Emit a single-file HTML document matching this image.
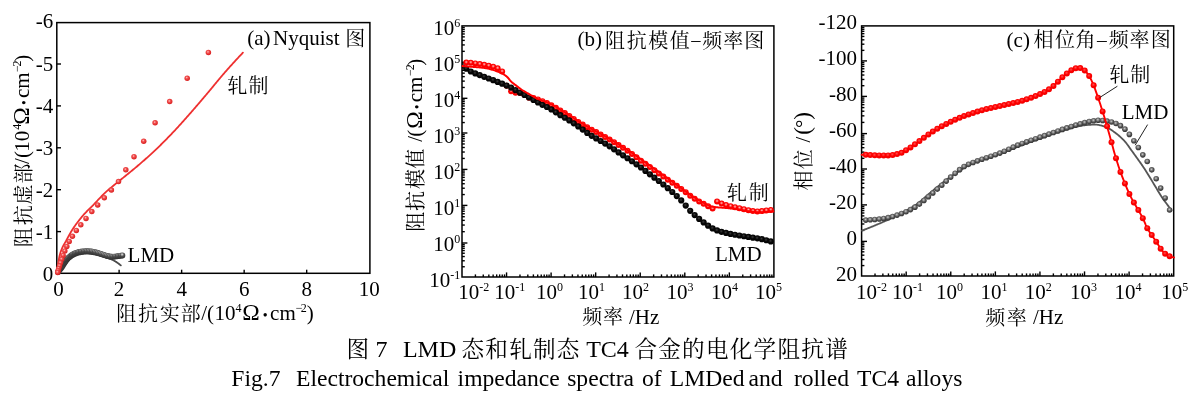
<!DOCTYPE html>
<html><head><meta charset="utf-8"><title>Fig.7</title>
<style>html,body{margin:0;padding:0;background:#fff;width:1199px;height:401px;overflow:hidden}svg{display:block}</style>
</head><body>
<svg width="1199" height="401" viewBox="0 0 1199 401"><defs>
<radialGradient id="ga" cx="0.42" cy="0.38" r="0.62"><stop offset="0" stop-color="#ffc8c8"/><stop offset="0.35" stop-color="#f25050"/><stop offset="1" stop-color="#d81c1c"/></radialGradient>
<radialGradient id="gal" cx="0.45" cy="0.32" r="0.68"><stop offset="0" stop-color="#eeeeee"/><stop offset="0.22" stop-color="#a0a0a0"/><stop offset="0.5" stop-color="#4c4c4c"/><stop offset="1" stop-color="#303030"/></radialGradient>
<radialGradient id="gbr" cx="0.5" cy="0.4" r="0.6"><stop offset="0" stop-color="#ffc0c0"/><stop offset="0.25" stop-color="#ff6060"/><stop offset="0.5" stop-color="#ff0000"/><stop offset="1" stop-color="#f40000"/></radialGradient>
<radialGradient id="gbk" cx="0.45" cy="0.4" r="0.6"><stop offset="0" stop-color="#3c3c3c"/><stop offset="0.45" stop-color="#080808"/><stop offset="1" stop-color="#000"/></radialGradient>
<radialGradient id="gcr" cx="0.45" cy="0.4" r="0.6"><stop offset="0" stop-color="#ff5050"/><stop offset="0.5" stop-color="#ff0000"/><stop offset="1" stop-color="#ee0000"/></radialGradient>
<radialGradient id="gcg" cx="0.45" cy="0.4" r="0.6"><stop offset="0" stop-color="#d0d0d0"/><stop offset="0.3" stop-color="#8a8a8a"/><stop offset="0.65" stop-color="#4e4e4e"/><stop offset="1" stop-color="#303030"/></radialGradient>
</defs>
<rect x="56.8" y="22.6" width="313.1" height="250.7" stroke="#000" stroke-width="1.5" fill="none"/>
<line x1="56.8" y1="231.6" x2="61" y2="231.6" stroke="#000" stroke-width="1.4"/>
<line x1="56.8" y1="189.7" x2="61" y2="189.7" stroke="#000" stroke-width="1.4"/>
<line x1="56.8" y1="147.8" x2="61" y2="147.8" stroke="#000" stroke-width="1.4"/>
<line x1="56.8" y1="105.9" x2="61" y2="105.9" stroke="#000" stroke-width="1.4"/>
<line x1="56.8" y1="64" x2="61" y2="64" stroke="#000" stroke-width="1.4"/>
<line x1="119.12" y1="273.3" x2="119.12" y2="269.7" stroke="#000" stroke-width="1.4"/>
<line x1="181.64" y1="273.3" x2="181.64" y2="269.7" stroke="#000" stroke-width="1.4"/>
<line x1="244.16" y1="273.3" x2="244.16" y2="269.7" stroke="#000" stroke-width="1.4"/>
<line x1="306.68" y1="273.3" x2="306.68" y2="269.7" stroke="#000" stroke-width="1.4"/>
<text x="53.3" y="280.7" font-family="'Liberation Serif', serif" font-size="21" text-anchor="end" >0</text>
<text x="53.3" y="238.8" font-family="'Liberation Serif', serif" font-size="21" text-anchor="end" >-1</text>
<text x="53.3" y="196.9" font-family="'Liberation Serif', serif" font-size="21" text-anchor="end" >-2</text>
<text x="53.3" y="155" font-family="'Liberation Serif', serif" font-size="21" text-anchor="end" >-3</text>
<text x="53.3" y="113.1" font-family="'Liberation Serif', serif" font-size="21" text-anchor="end" >-4</text>
<text x="53.3" y="71.2" font-family="'Liberation Serif', serif" font-size="21" text-anchor="end" >-5</text>
<text x="53.3" y="28.4" font-family="'Liberation Serif', serif" font-size="21" text-anchor="end" >-6</text>
<text x="58.6" y="296" font-family="'Liberation Serif', serif" font-size="21" text-anchor="middle" >0</text>
<text x="119.12" y="296" font-family="'Liberation Serif', serif" font-size="21" text-anchor="middle" >2</text>
<text x="181.64" y="296" font-family="'Liberation Serif', serif" font-size="21" text-anchor="middle" >4</text>
<text x="244.16" y="296" font-family="'Liberation Serif', serif" font-size="21" text-anchor="middle" >6</text>
<text x="306.68" y="296" font-family="'Liberation Serif', serif" font-size="21" text-anchor="middle" >8</text>
<text x="369.2" y="296" font-family="'Liberation Serif', serif" font-size="21" text-anchor="middle" >10</text>
<rect x="462" y="25.9" width="311.9" height="251.1" stroke="#000" stroke-width="1.5" fill="none"/>
<line x1="462" y1="266.76" x2="464.8" y2="266.76" stroke="#000" stroke-width="1.4"/>
<line x1="462" y1="260.78" x2="464.8" y2="260.78" stroke="#000" stroke-width="1.4"/>
<line x1="462" y1="256.53" x2="464.8" y2="256.53" stroke="#000" stroke-width="1.4"/>
<line x1="462" y1="253.24" x2="464.8" y2="253.24" stroke="#000" stroke-width="1.4"/>
<line x1="462" y1="250.54" x2="464.8" y2="250.54" stroke="#000" stroke-width="1.4"/>
<line x1="462" y1="248.27" x2="464.8" y2="248.27" stroke="#000" stroke-width="1.4"/>
<line x1="462" y1="246.29" x2="464.8" y2="246.29" stroke="#000" stroke-width="1.4"/>
<line x1="462" y1="244.56" x2="464.8" y2="244.56" stroke="#000" stroke-width="1.4"/>
<line x1="462" y1="243" x2="467.4" y2="243" stroke="#000" stroke-width="1.4"/>
<line x1="462" y1="231.68" x2="464.8" y2="231.68" stroke="#000" stroke-width="1.4"/>
<line x1="462" y1="225.06" x2="464.8" y2="225.06" stroke="#000" stroke-width="1.4"/>
<line x1="462" y1="220.36" x2="464.8" y2="220.36" stroke="#000" stroke-width="1.4"/>
<line x1="462" y1="216.72" x2="464.8" y2="216.72" stroke="#000" stroke-width="1.4"/>
<line x1="462" y1="213.74" x2="464.8" y2="213.74" stroke="#000" stroke-width="1.4"/>
<line x1="462" y1="211.22" x2="464.8" y2="211.22" stroke="#000" stroke-width="1.4"/>
<line x1="462" y1="209.04" x2="464.8" y2="209.04" stroke="#000" stroke-width="1.4"/>
<line x1="462" y1="207.12" x2="464.8" y2="207.12" stroke="#000" stroke-width="1.4"/>
<line x1="462" y1="205.4" x2="467.4" y2="205.4" stroke="#000" stroke-width="1.4"/>
<line x1="462" y1="194.56" x2="464.8" y2="194.56" stroke="#000" stroke-width="1.4"/>
<line x1="462" y1="188.22" x2="464.8" y2="188.22" stroke="#000" stroke-width="1.4"/>
<line x1="462" y1="183.73" x2="464.8" y2="183.73" stroke="#000" stroke-width="1.4"/>
<line x1="462" y1="180.24" x2="464.8" y2="180.24" stroke="#000" stroke-width="1.4"/>
<line x1="462" y1="177.39" x2="464.8" y2="177.39" stroke="#000" stroke-width="1.4"/>
<line x1="462" y1="174.98" x2="464.8" y2="174.98" stroke="#000" stroke-width="1.4"/>
<line x1="462" y1="172.89" x2="464.8" y2="172.89" stroke="#000" stroke-width="1.4"/>
<line x1="462" y1="171.05" x2="464.8" y2="171.05" stroke="#000" stroke-width="1.4"/>
<line x1="462" y1="169.4" x2="467.4" y2="169.4" stroke="#000" stroke-width="1.4"/>
<line x1="462" y1="158.44" x2="464.8" y2="158.44" stroke="#000" stroke-width="1.4"/>
<line x1="462" y1="152.03" x2="464.8" y2="152.03" stroke="#000" stroke-width="1.4"/>
<line x1="462" y1="147.49" x2="464.8" y2="147.49" stroke="#000" stroke-width="1.4"/>
<line x1="462" y1="143.96" x2="464.8" y2="143.96" stroke="#000" stroke-width="1.4"/>
<line x1="462" y1="141.08" x2="464.8" y2="141.08" stroke="#000" stroke-width="1.4"/>
<line x1="462" y1="138.64" x2="464.8" y2="138.64" stroke="#000" stroke-width="1.4"/>
<line x1="462" y1="136.53" x2="464.8" y2="136.53" stroke="#000" stroke-width="1.4"/>
<line x1="462" y1="134.67" x2="464.8" y2="134.67" stroke="#000" stroke-width="1.4"/>
<line x1="462" y1="133" x2="467.4" y2="133" stroke="#000" stroke-width="1.4"/>
<line x1="462" y1="122.55" x2="464.8" y2="122.55" stroke="#000" stroke-width="1.4"/>
<line x1="462" y1="116.44" x2="464.8" y2="116.44" stroke="#000" stroke-width="1.4"/>
<line x1="462" y1="112.11" x2="464.8" y2="112.11" stroke="#000" stroke-width="1.4"/>
<line x1="462" y1="108.75" x2="464.8" y2="108.75" stroke="#000" stroke-width="1.4"/>
<line x1="462" y1="106" x2="464.8" y2="106" stroke="#000" stroke-width="1.4"/>
<line x1="462" y1="103.68" x2="464.8" y2="103.68" stroke="#000" stroke-width="1.4"/>
<line x1="462" y1="101.66" x2="464.8" y2="101.66" stroke="#000" stroke-width="1.4"/>
<line x1="462" y1="99.89" x2="464.8" y2="99.89" stroke="#000" stroke-width="1.4"/>
<line x1="462" y1="98.3" x2="467.4" y2="98.3" stroke="#000" stroke-width="1.4"/>
<line x1="462" y1="87.46" x2="464.8" y2="87.46" stroke="#000" stroke-width="1.4"/>
<line x1="462" y1="81.12" x2="464.8" y2="81.12" stroke="#000" stroke-width="1.4"/>
<line x1="462" y1="76.63" x2="464.8" y2="76.63" stroke="#000" stroke-width="1.4"/>
<line x1="462" y1="73.14" x2="464.8" y2="73.14" stroke="#000" stroke-width="1.4"/>
<line x1="462" y1="70.29" x2="464.8" y2="70.29" stroke="#000" stroke-width="1.4"/>
<line x1="462" y1="67.88" x2="464.8" y2="67.88" stroke="#000" stroke-width="1.4"/>
<line x1="462" y1="65.79" x2="464.8" y2="65.79" stroke="#000" stroke-width="1.4"/>
<line x1="462" y1="63.95" x2="464.8" y2="63.95" stroke="#000" stroke-width="1.4"/>
<line x1="462" y1="62.3" x2="467.4" y2="62.3" stroke="#000" stroke-width="1.4"/>
<line x1="462" y1="51.34" x2="464.8" y2="51.34" stroke="#000" stroke-width="1.4"/>
<line x1="462" y1="44.93" x2="464.8" y2="44.93" stroke="#000" stroke-width="1.4"/>
<line x1="462" y1="40.39" x2="464.8" y2="40.39" stroke="#000" stroke-width="1.4"/>
<line x1="462" y1="36.86" x2="464.8" y2="36.86" stroke="#000" stroke-width="1.4"/>
<line x1="462" y1="33.98" x2="464.8" y2="33.98" stroke="#000" stroke-width="1.4"/>
<line x1="462" y1="31.54" x2="464.8" y2="31.54" stroke="#000" stroke-width="1.4"/>
<line x1="462" y1="29.43" x2="464.8" y2="29.43" stroke="#000" stroke-width="1.4"/>
<line x1="462" y1="27.57" x2="464.8" y2="27.57" stroke="#000" stroke-width="1.4"/>
<line x1="475.41" y1="277" x2="475.41" y2="274.4" stroke="#000" stroke-width="1.4"/>
<line x1="483.26" y1="277" x2="483.26" y2="274.4" stroke="#000" stroke-width="1.4"/>
<line x1="488.83" y1="277" x2="488.83" y2="274.4" stroke="#000" stroke-width="1.4"/>
<line x1="493.14" y1="277" x2="493.14" y2="274.4" stroke="#000" stroke-width="1.4"/>
<line x1="496.67" y1="277" x2="496.67" y2="274.4" stroke="#000" stroke-width="1.4"/>
<line x1="499.66" y1="277" x2="499.66" y2="274.4" stroke="#000" stroke-width="1.4"/>
<line x1="502.24" y1="277" x2="502.24" y2="274.4" stroke="#000" stroke-width="1.4"/>
<line x1="504.52" y1="277" x2="504.52" y2="274.4" stroke="#000" stroke-width="1.4"/>
<line x1="506.56" y1="277" x2="506.56" y2="272.4" stroke="#000" stroke-width="1.4"/>
<line x1="519.97" y1="277" x2="519.97" y2="274.4" stroke="#000" stroke-width="1.4"/>
<line x1="527.82" y1="277" x2="527.82" y2="274.4" stroke="#000" stroke-width="1.4"/>
<line x1="533.38" y1="277" x2="533.38" y2="274.4" stroke="#000" stroke-width="1.4"/>
<line x1="537.7" y1="277" x2="537.7" y2="274.4" stroke="#000" stroke-width="1.4"/>
<line x1="541.23" y1="277" x2="541.23" y2="274.4" stroke="#000" stroke-width="1.4"/>
<line x1="544.21" y1="277" x2="544.21" y2="274.4" stroke="#000" stroke-width="1.4"/>
<line x1="546.8" y1="277" x2="546.8" y2="274.4" stroke="#000" stroke-width="1.4"/>
<line x1="549.08" y1="277" x2="549.08" y2="274.4" stroke="#000" stroke-width="1.4"/>
<line x1="551.11" y1="277" x2="551.11" y2="272.4" stroke="#000" stroke-width="1.4"/>
<line x1="564.53" y1="277" x2="564.53" y2="274.4" stroke="#000" stroke-width="1.4"/>
<line x1="572.37" y1="277" x2="572.37" y2="274.4" stroke="#000" stroke-width="1.4"/>
<line x1="577.94" y1="277" x2="577.94" y2="274.4" stroke="#000" stroke-width="1.4"/>
<line x1="582.26" y1="277" x2="582.26" y2="274.4" stroke="#000" stroke-width="1.4"/>
<line x1="585.79" y1="277" x2="585.79" y2="274.4" stroke="#000" stroke-width="1.4"/>
<line x1="588.77" y1="277" x2="588.77" y2="274.4" stroke="#000" stroke-width="1.4"/>
<line x1="591.35" y1="277" x2="591.35" y2="274.4" stroke="#000" stroke-width="1.4"/>
<line x1="593.63" y1="277" x2="593.63" y2="274.4" stroke="#000" stroke-width="1.4"/>
<line x1="595.67" y1="277" x2="595.67" y2="272.4" stroke="#000" stroke-width="1.4"/>
<line x1="609.08" y1="277" x2="609.08" y2="274.4" stroke="#000" stroke-width="1.4"/>
<line x1="616.93" y1="277" x2="616.93" y2="274.4" stroke="#000" stroke-width="1.4"/>
<line x1="622.5" y1="277" x2="622.5" y2="274.4" stroke="#000" stroke-width="1.4"/>
<line x1="626.82" y1="277" x2="626.82" y2="274.4" stroke="#000" stroke-width="1.4"/>
<line x1="630.34" y1="277" x2="630.34" y2="274.4" stroke="#000" stroke-width="1.4"/>
<line x1="633.33" y1="277" x2="633.33" y2="274.4" stroke="#000" stroke-width="1.4"/>
<line x1="635.91" y1="277" x2="635.91" y2="274.4" stroke="#000" stroke-width="1.4"/>
<line x1="638.19" y1="277" x2="638.19" y2="274.4" stroke="#000" stroke-width="1.4"/>
<line x1="640.23" y1="277" x2="640.23" y2="272.4" stroke="#000" stroke-width="1.4"/>
<line x1="653.64" y1="277" x2="653.64" y2="274.4" stroke="#000" stroke-width="1.4"/>
<line x1="661.49" y1="277" x2="661.49" y2="274.4" stroke="#000" stroke-width="1.4"/>
<line x1="667.05" y1="277" x2="667.05" y2="274.4" stroke="#000" stroke-width="1.4"/>
<line x1="671.37" y1="277" x2="671.37" y2="274.4" stroke="#000" stroke-width="1.4"/>
<line x1="674.9" y1="277" x2="674.9" y2="274.4" stroke="#000" stroke-width="1.4"/>
<line x1="677.88" y1="277" x2="677.88" y2="274.4" stroke="#000" stroke-width="1.4"/>
<line x1="680.47" y1="277" x2="680.47" y2="274.4" stroke="#000" stroke-width="1.4"/>
<line x1="682.75" y1="277" x2="682.75" y2="274.4" stroke="#000" stroke-width="1.4"/>
<line x1="684.79" y1="277" x2="684.79" y2="272.4" stroke="#000" stroke-width="1.4"/>
<line x1="698.2" y1="277" x2="698.2" y2="274.4" stroke="#000" stroke-width="1.4"/>
<line x1="706.04" y1="277" x2="706.04" y2="274.4" stroke="#000" stroke-width="1.4"/>
<line x1="711.61" y1="277" x2="711.61" y2="274.4" stroke="#000" stroke-width="1.4"/>
<line x1="715.93" y1="277" x2="715.93" y2="274.4" stroke="#000" stroke-width="1.4"/>
<line x1="719.46" y1="277" x2="719.46" y2="274.4" stroke="#000" stroke-width="1.4"/>
<line x1="722.44" y1="277" x2="722.44" y2="274.4" stroke="#000" stroke-width="1.4"/>
<line x1="725.02" y1="277" x2="725.02" y2="274.4" stroke="#000" stroke-width="1.4"/>
<line x1="727.3" y1="277" x2="727.3" y2="274.4" stroke="#000" stroke-width="1.4"/>
<line x1="729.34" y1="277" x2="729.34" y2="272.4" stroke="#000" stroke-width="1.4"/>
<line x1="742.76" y1="277" x2="742.76" y2="274.4" stroke="#000" stroke-width="1.4"/>
<line x1="750.6" y1="277" x2="750.6" y2="274.4" stroke="#000" stroke-width="1.4"/>
<line x1="756.17" y1="277" x2="756.17" y2="274.4" stroke="#000" stroke-width="1.4"/>
<line x1="760.49" y1="277" x2="760.49" y2="274.4" stroke="#000" stroke-width="1.4"/>
<line x1="764.02" y1="277" x2="764.02" y2="274.4" stroke="#000" stroke-width="1.4"/>
<line x1="767" y1="277" x2="767" y2="274.4" stroke="#000" stroke-width="1.4"/>
<line x1="769.58" y1="277" x2="769.58" y2="274.4" stroke="#000" stroke-width="1.4"/>
<line x1="771.86" y1="277" x2="771.86" y2="274.4" stroke="#000" stroke-width="1.4"/>
<text x="460.2" y="286.72" font-family="'Liberation Serif', serif" font-size="21" text-anchor="end">10<tspan dy="-8" font-size="12">-1</tspan></text>
<text x="460.2" y="250.76" font-family="'Liberation Serif', serif" font-size="21" text-anchor="end">10<tspan dy="-8" font-size="12">0</tspan></text>
<text x="460.2" y="214.8" font-family="'Liberation Serif', serif" font-size="21" text-anchor="end">10<tspan dy="-8" font-size="12">1</tspan></text>
<text x="460.2" y="178.84" font-family="'Liberation Serif', serif" font-size="21" text-anchor="end">10<tspan dy="-8" font-size="12">2</tspan></text>
<text x="460.2" y="142.88" font-family="'Liberation Serif', serif" font-size="21" text-anchor="end">10<tspan dy="-8" font-size="12">3</tspan></text>
<text x="460.2" y="106.92" font-family="'Liberation Serif', serif" font-size="21" text-anchor="end">10<tspan dy="-8" font-size="12">4</tspan></text>
<text x="460.2" y="70.96" font-family="'Liberation Serif', serif" font-size="21" text-anchor="end">10<tspan dy="-8" font-size="12">5</tspan></text>
<text x="460.2" y="35" font-family="'Liberation Serif', serif" font-size="21" text-anchor="end">10<tspan dy="-8" font-size="12">6</tspan></text>
<text x="458.3" y="299" font-family="'Liberation Serif', serif" font-size="21">10<tspan dy="-8" font-size="12">-2</tspan></text>
<text x="494.3" y="299" font-family="'Liberation Serif', serif" font-size="21">10<tspan dy="-8" font-size="12">-1</tspan></text>
<text x="535.9" y="299" font-family="'Liberation Serif', serif" font-size="21">10<tspan dy="-8" font-size="12">0</tspan></text>
<text x="578.1" y="299" font-family="'Liberation Serif', serif" font-size="21">10<tspan dy="-8" font-size="12">1</tspan></text>
<text x="622" y="299" font-family="'Liberation Serif', serif" font-size="21">10<tspan dy="-8" font-size="12">2</tspan></text>
<text x="666.5" y="299" font-family="'Liberation Serif', serif" font-size="21">10<tspan dy="-8" font-size="12">3</tspan></text>
<text x="711.1" y="299" font-family="'Liberation Serif', serif" font-size="21">10<tspan dy="-8" font-size="12">4</tspan></text>
<text x="755.1" y="299" font-family="'Liberation Serif', serif" font-size="21">10<tspan dy="-8" font-size="12">5</tspan></text>
<rect x="861.6" y="25.9" width="312.1" height="250.1" stroke="#000" stroke-width="1.5" fill="none"/>
<line x1="861.6" y1="265.58" x2="864.4" y2="265.58" stroke="#000" stroke-width="1.4"/>
<line x1="861.6" y1="259.49" x2="864.4" y2="259.49" stroke="#000" stroke-width="1.4"/>
<line x1="861.6" y1="255.17" x2="864.4" y2="255.17" stroke="#000" stroke-width="1.4"/>
<line x1="861.6" y1="251.82" x2="864.4" y2="251.82" stroke="#000" stroke-width="1.4"/>
<line x1="861.6" y1="249.08" x2="864.4" y2="249.08" stroke="#000" stroke-width="1.4"/>
<line x1="861.6" y1="246.76" x2="864.4" y2="246.76" stroke="#000" stroke-width="1.4"/>
<line x1="861.6" y1="244.75" x2="864.4" y2="244.75" stroke="#000" stroke-width="1.4"/>
<line x1="861.6" y1="242.98" x2="864.4" y2="242.98" stroke="#000" stroke-width="1.4"/>
<line x1="861.6" y1="241.4" x2="867" y2="241.4" stroke="#000" stroke-width="1.4"/>
<line x1="861.6" y1="230.41" x2="864.4" y2="230.41" stroke="#000" stroke-width="1.4"/>
<line x1="861.6" y1="223.99" x2="864.4" y2="223.99" stroke="#000" stroke-width="1.4"/>
<line x1="861.6" y1="219.42" x2="864.4" y2="219.42" stroke="#000" stroke-width="1.4"/>
<line x1="861.6" y1="215.89" x2="864.4" y2="215.89" stroke="#000" stroke-width="1.4"/>
<line x1="861.6" y1="213" x2="864.4" y2="213" stroke="#000" stroke-width="1.4"/>
<line x1="861.6" y1="210.55" x2="864.4" y2="210.55" stroke="#000" stroke-width="1.4"/>
<line x1="861.6" y1="208.44" x2="864.4" y2="208.44" stroke="#000" stroke-width="1.4"/>
<line x1="861.6" y1="206.57" x2="864.4" y2="206.57" stroke="#000" stroke-width="1.4"/>
<line x1="861.6" y1="204.9" x2="867" y2="204.9" stroke="#000" stroke-width="1.4"/>
<line x1="861.6" y1="194.09" x2="864.4" y2="194.09" stroke="#000" stroke-width="1.4"/>
<line x1="861.6" y1="187.77" x2="864.4" y2="187.77" stroke="#000" stroke-width="1.4"/>
<line x1="861.6" y1="183.29" x2="864.4" y2="183.29" stroke="#000" stroke-width="1.4"/>
<line x1="861.6" y1="179.81" x2="864.4" y2="179.81" stroke="#000" stroke-width="1.4"/>
<line x1="861.6" y1="176.96" x2="864.4" y2="176.96" stroke="#000" stroke-width="1.4"/>
<line x1="861.6" y1="174.56" x2="864.4" y2="174.56" stroke="#000" stroke-width="1.4"/>
<line x1="861.6" y1="172.48" x2="864.4" y2="172.48" stroke="#000" stroke-width="1.4"/>
<line x1="861.6" y1="170.64" x2="864.4" y2="170.64" stroke="#000" stroke-width="1.4"/>
<line x1="861.6" y1="169" x2="867" y2="169" stroke="#000" stroke-width="1.4"/>
<line x1="861.6" y1="158.34" x2="864.4" y2="158.34" stroke="#000" stroke-width="1.4"/>
<line x1="861.6" y1="152.11" x2="864.4" y2="152.11" stroke="#000" stroke-width="1.4"/>
<line x1="861.6" y1="147.69" x2="864.4" y2="147.69" stroke="#000" stroke-width="1.4"/>
<line x1="861.6" y1="144.26" x2="864.4" y2="144.26" stroke="#000" stroke-width="1.4"/>
<line x1="861.6" y1="141.45" x2="864.4" y2="141.45" stroke="#000" stroke-width="1.4"/>
<line x1="861.6" y1="139.08" x2="864.4" y2="139.08" stroke="#000" stroke-width="1.4"/>
<line x1="861.6" y1="137.03" x2="864.4" y2="137.03" stroke="#000" stroke-width="1.4"/>
<line x1="861.6" y1="135.22" x2="864.4" y2="135.22" stroke="#000" stroke-width="1.4"/>
<line x1="861.6" y1="133.6" x2="867" y2="133.6" stroke="#000" stroke-width="1.4"/>
<line x1="861.6" y1="122.4" x2="864.4" y2="122.4" stroke="#000" stroke-width="1.4"/>
<line x1="861.6" y1="115.85" x2="864.4" y2="115.85" stroke="#000" stroke-width="1.4"/>
<line x1="861.6" y1="111.2" x2="864.4" y2="111.2" stroke="#000" stroke-width="1.4"/>
<line x1="861.6" y1="107.6" x2="864.4" y2="107.6" stroke="#000" stroke-width="1.4"/>
<line x1="861.6" y1="104.65" x2="864.4" y2="104.65" stroke="#000" stroke-width="1.4"/>
<line x1="861.6" y1="102.16" x2="864.4" y2="102.16" stroke="#000" stroke-width="1.4"/>
<line x1="861.6" y1="100.01" x2="864.4" y2="100.01" stroke="#000" stroke-width="1.4"/>
<line x1="861.6" y1="98.1" x2="864.4" y2="98.1" stroke="#000" stroke-width="1.4"/>
<line x1="861.6" y1="96.4" x2="867" y2="96.4" stroke="#000" stroke-width="1.4"/>
<line x1="861.6" y1="85.71" x2="864.4" y2="85.71" stroke="#000" stroke-width="1.4"/>
<line x1="861.6" y1="79.46" x2="864.4" y2="79.46" stroke="#000" stroke-width="1.4"/>
<line x1="861.6" y1="75.03" x2="864.4" y2="75.03" stroke="#000" stroke-width="1.4"/>
<line x1="861.6" y1="71.59" x2="864.4" y2="71.59" stroke="#000" stroke-width="1.4"/>
<line x1="861.6" y1="68.78" x2="864.4" y2="68.78" stroke="#000" stroke-width="1.4"/>
<line x1="861.6" y1="66.4" x2="864.4" y2="66.4" stroke="#000" stroke-width="1.4"/>
<line x1="861.6" y1="64.34" x2="864.4" y2="64.34" stroke="#000" stroke-width="1.4"/>
<line x1="861.6" y1="62.52" x2="864.4" y2="62.52" stroke="#000" stroke-width="1.4"/>
<line x1="861.6" y1="60.9" x2="867" y2="60.9" stroke="#000" stroke-width="1.4"/>
<line x1="861.6" y1="50.36" x2="864.4" y2="50.36" stroke="#000" stroke-width="1.4"/>
<line x1="861.6" y1="44.2" x2="864.4" y2="44.2" stroke="#000" stroke-width="1.4"/>
<line x1="861.6" y1="39.83" x2="864.4" y2="39.83" stroke="#000" stroke-width="1.4"/>
<line x1="861.6" y1="36.44" x2="864.4" y2="36.44" stroke="#000" stroke-width="1.4"/>
<line x1="861.6" y1="33.66" x2="864.4" y2="33.66" stroke="#000" stroke-width="1.4"/>
<line x1="861.6" y1="31.32" x2="864.4" y2="31.32" stroke="#000" stroke-width="1.4"/>
<line x1="861.6" y1="29.29" x2="864.4" y2="29.29" stroke="#000" stroke-width="1.4"/>
<line x1="861.6" y1="27.5" x2="864.4" y2="27.5" stroke="#000" stroke-width="1.4"/>
<line x1="875.02" y1="276" x2="875.02" y2="273.4" stroke="#000" stroke-width="1.4"/>
<line x1="882.87" y1="276" x2="882.87" y2="273.4" stroke="#000" stroke-width="1.4"/>
<line x1="888.44" y1="276" x2="888.44" y2="273.4" stroke="#000" stroke-width="1.4"/>
<line x1="892.76" y1="276" x2="892.76" y2="273.4" stroke="#000" stroke-width="1.4"/>
<line x1="896.29" y1="276" x2="896.29" y2="273.4" stroke="#000" stroke-width="1.4"/>
<line x1="899.28" y1="276" x2="899.28" y2="273.4" stroke="#000" stroke-width="1.4"/>
<line x1="901.86" y1="276" x2="901.86" y2="273.4" stroke="#000" stroke-width="1.4"/>
<line x1="904.15" y1="276" x2="904.15" y2="273.4" stroke="#000" stroke-width="1.4"/>
<line x1="906.19" y1="276" x2="906.19" y2="271.4" stroke="#000" stroke-width="1.4"/>
<line x1="919.61" y1="276" x2="919.61" y2="273.4" stroke="#000" stroke-width="1.4"/>
<line x1="927.46" y1="276" x2="927.46" y2="273.4" stroke="#000" stroke-width="1.4"/>
<line x1="933.03" y1="276" x2="933.03" y2="273.4" stroke="#000" stroke-width="1.4"/>
<line x1="937.35" y1="276" x2="937.35" y2="273.4" stroke="#000" stroke-width="1.4"/>
<line x1="940.88" y1="276" x2="940.88" y2="273.4" stroke="#000" stroke-width="1.4"/>
<line x1="943.87" y1="276" x2="943.87" y2="273.4" stroke="#000" stroke-width="1.4"/>
<line x1="946.45" y1="276" x2="946.45" y2="273.4" stroke="#000" stroke-width="1.4"/>
<line x1="948.73" y1="276" x2="948.73" y2="273.4" stroke="#000" stroke-width="1.4"/>
<line x1="950.77" y1="276" x2="950.77" y2="271.4" stroke="#000" stroke-width="1.4"/>
<line x1="964.19" y1="276" x2="964.19" y2="273.4" stroke="#000" stroke-width="1.4"/>
<line x1="972.04" y1="276" x2="972.04" y2="273.4" stroke="#000" stroke-width="1.4"/>
<line x1="977.61" y1="276" x2="977.61" y2="273.4" stroke="#000" stroke-width="1.4"/>
<line x1="981.94" y1="276" x2="981.94" y2="273.4" stroke="#000" stroke-width="1.4"/>
<line x1="985.47" y1="276" x2="985.47" y2="273.4" stroke="#000" stroke-width="1.4"/>
<line x1="988.45" y1="276" x2="988.45" y2="273.4" stroke="#000" stroke-width="1.4"/>
<line x1="991.04" y1="276" x2="991.04" y2="273.4" stroke="#000" stroke-width="1.4"/>
<line x1="993.32" y1="276" x2="993.32" y2="273.4" stroke="#000" stroke-width="1.4"/>
<line x1="995.36" y1="276" x2="995.36" y2="271.4" stroke="#000" stroke-width="1.4"/>
<line x1="1008.78" y1="276" x2="1008.78" y2="273.4" stroke="#000" stroke-width="1.4"/>
<line x1="1016.63" y1="276" x2="1016.63" y2="273.4" stroke="#000" stroke-width="1.4"/>
<line x1="1022.2" y1="276" x2="1022.2" y2="273.4" stroke="#000" stroke-width="1.4"/>
<line x1="1026.52" y1="276" x2="1026.52" y2="273.4" stroke="#000" stroke-width="1.4"/>
<line x1="1030.05" y1="276" x2="1030.05" y2="273.4" stroke="#000" stroke-width="1.4"/>
<line x1="1033.04" y1="276" x2="1033.04" y2="273.4" stroke="#000" stroke-width="1.4"/>
<line x1="1035.62" y1="276" x2="1035.62" y2="273.4" stroke="#000" stroke-width="1.4"/>
<line x1="1037.9" y1="276" x2="1037.9" y2="273.4" stroke="#000" stroke-width="1.4"/>
<line x1="1039.94" y1="276" x2="1039.94" y2="271.4" stroke="#000" stroke-width="1.4"/>
<line x1="1053.36" y1="276" x2="1053.36" y2="273.4" stroke="#000" stroke-width="1.4"/>
<line x1="1061.22" y1="276" x2="1061.22" y2="273.4" stroke="#000" stroke-width="1.4"/>
<line x1="1066.79" y1="276" x2="1066.79" y2="273.4" stroke="#000" stroke-width="1.4"/>
<line x1="1071.11" y1="276" x2="1071.11" y2="273.4" stroke="#000" stroke-width="1.4"/>
<line x1="1074.64" y1="276" x2="1074.64" y2="273.4" stroke="#000" stroke-width="1.4"/>
<line x1="1077.62" y1="276" x2="1077.62" y2="273.4" stroke="#000" stroke-width="1.4"/>
<line x1="1080.21" y1="276" x2="1080.21" y2="273.4" stroke="#000" stroke-width="1.4"/>
<line x1="1082.49" y1="276" x2="1082.49" y2="273.4" stroke="#000" stroke-width="1.4"/>
<line x1="1084.53" y1="276" x2="1084.53" y2="271.4" stroke="#000" stroke-width="1.4"/>
<line x1="1097.95" y1="276" x2="1097.95" y2="273.4" stroke="#000" stroke-width="1.4"/>
<line x1="1105.8" y1="276" x2="1105.8" y2="273.4" stroke="#000" stroke-width="1.4"/>
<line x1="1111.37" y1="276" x2="1111.37" y2="273.4" stroke="#000" stroke-width="1.4"/>
<line x1="1115.69" y1="276" x2="1115.69" y2="273.4" stroke="#000" stroke-width="1.4"/>
<line x1="1119.22" y1="276" x2="1119.22" y2="273.4" stroke="#000" stroke-width="1.4"/>
<line x1="1122.21" y1="276" x2="1122.21" y2="273.4" stroke="#000" stroke-width="1.4"/>
<line x1="1124.79" y1="276" x2="1124.79" y2="273.4" stroke="#000" stroke-width="1.4"/>
<line x1="1127.07" y1="276" x2="1127.07" y2="273.4" stroke="#000" stroke-width="1.4"/>
<line x1="1129.11" y1="276" x2="1129.11" y2="271.4" stroke="#000" stroke-width="1.4"/>
<line x1="1142.54" y1="276" x2="1142.54" y2="273.4" stroke="#000" stroke-width="1.4"/>
<line x1="1150.39" y1="276" x2="1150.39" y2="273.4" stroke="#000" stroke-width="1.4"/>
<line x1="1155.96" y1="276" x2="1155.96" y2="273.4" stroke="#000" stroke-width="1.4"/>
<line x1="1160.28" y1="276" x2="1160.28" y2="273.4" stroke="#000" stroke-width="1.4"/>
<line x1="1163.81" y1="276" x2="1163.81" y2="273.4" stroke="#000" stroke-width="1.4"/>
<line x1="1166.79" y1="276" x2="1166.79" y2="273.4" stroke="#000" stroke-width="1.4"/>
<line x1="1169.38" y1="276" x2="1169.38" y2="273.4" stroke="#000" stroke-width="1.4"/>
<line x1="1171.66" y1="276" x2="1171.66" y2="273.4" stroke="#000" stroke-width="1.4"/>
<text x="857" y="28.73" font-family="'Liberation Serif', serif" font-size="21" text-anchor="end" >-120</text>
<text x="857" y="64.77" font-family="'Liberation Serif', serif" font-size="21" text-anchor="end" >-100</text>
<text x="857" y="100.81" font-family="'Liberation Serif', serif" font-size="21" text-anchor="end" >-80</text>
<text x="857" y="136.85" font-family="'Liberation Serif', serif" font-size="21" text-anchor="end" >-60</text>
<text x="857" y="172.89" font-family="'Liberation Serif', serif" font-size="21" text-anchor="end" >-40</text>
<text x="857" y="208.93" font-family="'Liberation Serif', serif" font-size="21" text-anchor="end" >-20</text>
<text x="857" y="244.97" font-family="'Liberation Serif', serif" font-size="21" text-anchor="end" >0</text>
<text x="857" y="281.01" font-family="'Liberation Serif', serif" font-size="21" text-anchor="end" >20</text>
<text x="856" y="299" font-family="'Liberation Serif', serif" font-size="21">10<tspan dy="-8" font-size="12">-2</tspan></text>
<text x="892.1" y="299" font-family="'Liberation Serif', serif" font-size="21">10<tspan dy="-8" font-size="12">-1</tspan></text>
<text x="935.9" y="299" font-family="'Liberation Serif', serif" font-size="21">10<tspan dy="-8" font-size="12">0</tspan></text>
<text x="980.6" y="299" font-family="'Liberation Serif', serif" font-size="21">10<tspan dy="-8" font-size="12">1</tspan></text>
<text x="1024.8" y="299" font-family="'Liberation Serif', serif" font-size="21">10<tspan dy="-8" font-size="12">2</tspan></text>
<text x="1070" y="299" font-family="'Liberation Serif', serif" font-size="21">10<tspan dy="-8" font-size="12">3</tspan></text>
<text x="1114.6" y="299" font-family="'Liberation Serif', serif" font-size="21">10<tspan dy="-8" font-size="12">4</tspan></text>
<text x="1161.3" y="299" font-family="'Liberation Serif', serif" font-size="21">10<tspan dy="-8" font-size="12">5</tspan></text>
<polyline points="57.2,273 57.25,272.27 57.31,271.53 57.37,270.8 57.44,270.07 57.51,269.34 57.58,268.61 57.66,267.88 57.74,267.15 57.82,266.42 57.91,265.69 58.01,264.96 58.11,264.24 58.21,263.51 58.32,262.78 58.43,262.06 58.55,261.33 58.66,260.61 58.78,259.88 58.91,259.16 59.03,258.43 59.17,257.71 59.31,256.99 59.46,256.27 59.62,255.55 59.79,254.84 59.97,254.14 60.18,253.43 60.39,252.73 60.63,252.03 60.87,251.33 61.13,250.64 61.39,249.95 61.67,249.27 61.95,248.59 62.23,247.92 62.53,247.26 62.85,246.6 63.19,245.95 63.54,245.3 63.9,244.66 64.26,244.02 64.63,243.38 65.01,242.75 65.38,242.11 65.74,241.47 66.1,240.83 66.45,240.18 66.8,239.53 67.15,238.89 67.49,238.24 67.84,237.59 68.19,236.94 68.54,236.29 68.89,235.65 69.24,235 69.59,234.36 69.95,233.71 70.31,233.07 70.67,232.44 71.04,231.8 71.42,231.17 71.8,230.55 72.18,229.93 72.58,229.31 72.98,228.7 73.38,228.09 73.79,227.48 74.21,226.88 74.63,226.27 75.06,225.67 75.49,225.08 75.93,224.48 76.36,223.89 76.8,223.3 77.24,222.72 77.69,222.13 78.13,221.55 78.58,220.97 79.03,220.38 79.48,219.81 79.94,219.23 80.39,218.65 80.86,218.08 81.32,217.51 81.79,216.94 82.26,216.38 82.74,215.82 83.21,215.26 83.7,214.71 84.18,214.16 84.67,213.62 85.17,213.08 85.68,212.55 86.19,212.02 86.7,211.5 87.22,210.98 87.74,210.47 88.27,209.95 88.8,209.44 89.32,208.93 89.85,208.42 90.38,207.9 90.91,207.39 91.43,206.87 91.95,206.35 92.46,205.83 92.98,205.3 93.49,204.78 94,204.25 94.5,203.71 95.01,203.18 95.51,202.65 96.02,202.11 96.52,201.57 97.02,201.04 97.53,200.5 98.03,199.96 98.53,199.43 99.04,198.89 99.54,198.36 100.05,197.83 100.56,197.3 101.07,196.77 101.58,196.24 102.09,195.72 102.61,195.2 103.13,194.68 103.65,194.17 104.18,193.66 104.71,193.15 105.24,192.65 105.78,192.15 106.32,191.66 106.86,191.17 107.41,190.69 107.97,190.2 108.52,189.73 109.08,189.25 109.64,188.77 110.21,188.3 110.77,187.83 111.34,187.36 111.91,186.9 112.47,186.43 113.04,185.96 113.61,185.5 114.18,185.03 114.75,184.57 115.32,184.1 115.88,183.63 116.45,183.17 117.02,182.7 117.58,182.23 118.15,181.77 118.72,181.31 119.3,180.85 119.87,180.39 120.44,179.93 121.01,179.47 121.58,179.01 122.16,178.55 122.73,178.09 123.3,177.63 123.87,177.17 124.44,176.7 125.02,176.24 125.59,175.78 126.16,175.32 126.72,174.85 127.29,174.39 127.86,173.93 128.43,173.47 129,173 129.58,172.54 130.15,172.08 130.72,171.61 131.29,171.15 131.86,170.69 132.42,170.22 132.99,169.76 133.56,169.29 134.13,168.83 134.69,168.36 135.26,167.89 135.82,167.42 136.38,166.95 136.94,166.47 137.5,166 138.06,165.52 138.62,165.04 139.18,164.57 139.73,164.09 140.29,163.61 140.85,163.13 141.4,162.65 141.96,162.17 142.51,161.69 143.06,161.2 143.62,160.72 144.17,160.24 144.72,159.75 145.27,159.26 145.82,158.78 146.37,158.29 146.92,157.8 147.47,157.31 148.02,156.82 148.56,156.33 149.11,155.84 149.65,155.35 150.2,154.85 150.74,154.36 151.28,153.86 151.82,153.37 152.36,152.87 152.9,152.37 153.44,151.87 153.97,151.37 154.51,150.87 155.04,150.37 155.58,149.86 156.11,149.36 156.64,148.85 157.17,148.34 157.7,147.83 158.23,147.32 158.75,146.81 159.28,146.3 159.81,145.79 160.33,145.28 160.85,144.76 161.38,144.24 161.9,143.73 162.42,143.21 162.94,142.69 163.46,142.17 163.98,141.65 164.5,141.13 165.02,140.61 165.53,140.09 166.05,139.56 166.56,139.04 167.08,138.52 167.59,137.99 168.1,137.46 168.62,136.94 169.13,136.41 169.64,135.88 170.15,135.35 170.66,134.82 171.16,134.29 171.67,133.76 172.18,133.23 172.68,132.7 173.19,132.17 173.69,131.64 174.19,131.1 174.7,130.57 175.2,130.03 175.7,129.49 176.2,128.95 176.7,128.42 177.19,127.88 177.69,127.34 178.19,126.79 178.68,126.25 179.18,125.71 179.67,125.17 180.16,124.62 180.66,124.08 181.15,123.53 181.64,122.99 182.13,122.44 182.62,121.89 183.11,121.34 183.6,120.8 184.09,120.25 184.58,119.7 185.07,119.15 185.55,118.6 186.04,118.05 186.53,117.5 187.02,116.95 187.5,116.4 187.99,115.85 188.47,115.3 188.96,114.75 189.45,114.2 189.93,113.65 190.42,113.1 190.9,112.55 191.38,112 191.87,111.44 192.35,110.89 192.83,110.34 193.31,109.78 193.8,109.23 194.28,108.67 194.76,108.12 195.24,107.56 195.72,107.01 196.19,106.45 196.67,105.89 197.15,105.34 197.63,104.78 198.11,104.22 198.58,103.66 199.06,103.1 199.54,102.55 200.01,101.99 200.49,101.43 200.97,100.87 201.44,100.31 201.92,99.75 202.39,99.19 202.87,98.63 203.34,98.07 203.82,97.51 204.29,96.95 204.77,96.39 205.24,95.83 205.72,95.27 206.19,94.71 206.67,94.15 207.14,93.59 207.61,93.03 208.09,92.47 208.56,91.9 209.03,91.34 209.5,90.78 209.97,90.21 210.44,89.65 210.91,89.08 211.38,88.52 211.85,87.95 212.32,87.39 212.78,86.82 213.25,86.25 213.72,85.69 214.18,85.12 214.65,84.55 215.12,83.99 215.59,83.42 216.05,82.85 216.52,82.29 216.99,81.72 217.46,81.15 217.92,80.59 218.39,80.02 218.86,79.46 219.33,78.9 219.8,78.33 220.28,77.77 220.75,77.21 221.22,76.65 221.7,76.09 222.17,75.53 222.65,74.97 223.13,74.41 223.61,73.86 224.09,73.3 224.57,72.75 225.05,72.2 225.54,71.65 226.02,71.09 226.51,70.54 226.99,69.99 227.48,69.45 227.97,68.9 228.45,68.35 228.94,67.8 229.43,67.25 229.92,66.71 230.41,66.16 230.9,65.62 231.4,65.07 231.89,64.53 232.38,63.98 232.88,63.44 233.37,62.9 233.87,62.36 234.36,61.81 234.86,61.27 235.36,60.73 235.86,60.19 236.36,59.65 236.85,59.12 237.35,58.58 237.86,58.04 238.36,57.5 238.86,56.97 239.36,56.43 239.87,55.9 240.37,55.36 240.87,54.83 241.38,54.3 241.89,53.76 242.39,53.23 242.9,52.7" fill="none" stroke="#ee3030" stroke-width="1.8" stroke-linejoin="round" stroke-linecap="round" />
<polyline points="57.4,273 57.63,272.71 57.87,272.43 58.1,272.15 58.34,271.86 58.57,271.58 58.81,271.3 59.05,271.02 59.29,270.73 59.52,270.45 59.77,270.18 60.01,269.9 60.25,269.62 60.5,269.35 60.74,269.07 60.99,268.8 61.23,268.52 61.47,268.24 61.72,267.97 61.96,267.69 62.19,267.41 62.43,267.12 62.66,266.84 62.89,266.55 63.12,266.26 63.35,265.97 63.57,265.67 63.8,265.38 64.03,265.09 64.25,264.8 64.48,264.51 64.71,264.22 64.95,263.94 65.19,263.66 65.43,263.39 65.68,263.12 65.93,262.85 66.18,262.58 66.43,262.31 66.69,262.04 66.95,261.78 67.21,261.52 67.48,261.26 67.75,261 68.02,260.75 68.29,260.5 68.57,260.25 68.84,260.01 69.13,259.78 69.41,259.55 69.7,259.33 69.99,259.1 70.28,258.89 70.58,258.67 70.88,258.45 71.19,258.24 71.5,258.03 71.81,257.83 72.13,257.63 72.44,257.44 72.76,257.25 73.08,257.07 73.41,256.9 73.73,256.73 74.06,256.57 74.39,256.42 74.72,256.26 75.05,256.11 75.39,255.95 75.73,255.8 76.07,255.66 76.42,255.51 76.77,255.37 77.11,255.24 77.46,255.11 77.81,254.99 78.17,254.87 78.52,254.76 78.87,254.66 79.23,254.57 79.58,254.48 79.94,254.41 80.3,254.35 80.65,254.28 81.01,254.21 81.38,254.15 81.74,254.09 82.1,254.03 82.47,253.97 82.84,253.91 83.2,253.86 83.57,253.81 83.94,253.77 84.31,253.73 84.68,253.69 85.05,253.66 85.42,253.64 85.79,253.62 86.15,253.61 86.52,253.6 86.89,253.6 87.25,253.61 87.62,253.62 87.99,253.64 88.36,253.66 88.73,253.69 89.09,253.72 89.46,253.76 89.83,253.8 90.2,253.84 90.56,253.88 90.93,253.93 91.3,253.97 91.66,254.02 92.03,254.07 92.39,254.12 92.76,254.17 93.12,254.22 93.48,254.27 93.85,254.33 94.21,254.39 94.57,254.46 94.93,254.53 95.29,254.61 95.65,254.69 96.01,254.77 96.37,254.86 96.73,254.94 97.09,255.03 97.45,255.13 97.8,255.22 98.16,255.31 98.52,255.41 98.88,255.5 99.23,255.6 99.59,255.69 99.94,255.79 100.3,255.88 100.66,255.98 101.01,256.07 101.36,256.17 101.72,256.28 102.07,256.38 102.42,256.49 102.78,256.59 103.13,256.7 103.48,256.81 103.83,256.92 104.19,257.03 104.54,257.14 104.89,257.25 105.24,257.36 105.59,257.47 105.94,257.58 106.3,257.69 106.65,257.8 107,257.9 107.36,258.01 107.71,258.11 108.07,258.22 108.42,258.32 108.77,258.43 109.13,258.54 109.48,258.66 109.83,258.77 110.17,258.89 110.52,259.02 110.86,259.15 111.2,259.28 111.54,259.42 111.88,259.57 112.21,259.72 112.54,259.88 112.88,260.05 113.21,260.21 113.53,260.39 113.86,260.56 114.18,260.74 114.51,260.92 114.83,261.1 115.14,261.28 115.46,261.47 115.77,261.67 116.08,261.87 116.39,262.07 116.69,262.28 117,262.49 117.3,262.7 117.6,262.91 117.9,263.13 118.2,263.34 118.49,263.56 118.79,263.78 119.08,264.01 119.37,264.23 119.66,264.46 119.95,264.69 120.23,264.93 120.52,265.16 120.8,265.4" fill="none" stroke="#4a4a4a" stroke-width="1.8" stroke-linejoin="round" stroke-linecap="round" />
<circle cx="58" cy="272" r="2.9" fill="url(#gal)"/>
<circle cx="58.96" cy="270.75" r="2.9" fill="url(#gal)"/>
<circle cx="59.97" cy="269.54" r="2.9" fill="url(#gal)"/>
<circle cx="60.97" cy="268.32" r="2.9" fill="url(#gal)"/>
<circle cx="61.87" cy="267.03" r="2.9" fill="url(#gal)"/>
<circle cx="62.71" cy="265.7" r="2.9" fill="url(#gal)"/>
<circle cx="63.54" cy="264.35" r="2.9" fill="url(#gal)"/>
<circle cx="64.4" cy="263.02" r="2.9" fill="url(#gal)"/>
<circle cx="65.24" cy="261.68" r="2.9" fill="url(#gal)"/>
<circle cx="66.13" cy="260.38" r="2.9" fill="url(#gal)"/>
<circle cx="67.12" cy="259.17" r="2.9" fill="url(#gal)"/>
<circle cx="68.21" cy="258.02" r="2.9" fill="url(#gal)"/>
<circle cx="69.37" cy="256.94" r="2.9" fill="url(#gal)"/>
<circle cx="70.57" cy="255.94" r="2.9" fill="url(#gal)"/>
<circle cx="71.85" cy="254.99" r="2.9" fill="url(#gal)"/>
<circle cx="73.19" cy="254.16" r="2.9" fill="url(#gal)"/>
<circle cx="74.59" cy="253.47" r="2.9" fill="url(#gal)"/>
<circle cx="76.06" cy="252.85" r="2.9" fill="url(#gal)"/>
<circle cx="77.56" cy="252.36" r="2.9" fill="url(#gal)"/>
<circle cx="79.09" cy="252" r="2.9" fill="url(#gal)"/>
<circle cx="80.64" cy="251.71" r="2.9" fill="url(#gal)"/>
<circle cx="82.21" cy="251.5" r="2.9" fill="url(#gal)"/>
<circle cx="83.78" cy="251.35" r="2.9" fill="url(#gal)"/>
<circle cx="85.35" cy="251.23" r="2.9" fill="url(#gal)"/>
<circle cx="86.93" cy="251.2" r="2.9" fill="url(#gal)"/>
<circle cx="88.51" cy="251.25" r="2.9" fill="url(#gal)"/>
<circle cx="90.08" cy="251.34" r="2.9" fill="url(#gal)"/>
<circle cx="91.64" cy="251.48" r="2.9" fill="url(#gal)"/>
<circle cx="93.19" cy="251.78" r="2.9" fill="url(#gal)"/>
<circle cx="94.73" cy="252.14" r="2.9" fill="url(#gal)"/>
<circle cx="96.26" cy="252.51" r="2.9" fill="url(#gal)"/>
<circle cx="97.78" cy="252.93" r="2.9" fill="url(#gal)"/>
<circle cx="99.3" cy="253.38" r="2.9" fill="url(#gal)"/>
<circle cx="100.8" cy="253.85" r="2.9" fill="url(#gal)"/>
<circle cx="102.3" cy="254.34" r="2.9" fill="url(#gal)"/>
<circle cx="103.8" cy="254.83" r="2.9" fill="url(#gal)"/>
<circle cx="105.29" cy="255.36" r="2.9" fill="url(#gal)"/>
<circle cx="106.8" cy="255.83" r="2.9" fill="url(#gal)"/>
<circle cx="108.33" cy="256.18" r="2.9" fill="url(#gal)"/>
<circle cx="109.88" cy="256.51" r="2.9" fill="url(#gal)"/>
<circle cx="111.45" cy="256.69" r="2.9" fill="url(#gal)"/>
<circle cx="113.01" cy="256.67" r="2.9" fill="url(#gal)"/>
<circle cx="114.59" cy="256.55" r="2.9" fill="url(#gal)"/>
<circle cx="116.16" cy="256.4" r="2.9" fill="url(#gal)"/>
<circle cx="117.72" cy="256.19" r="2.9" fill="url(#gal)"/>
<circle cx="119.27" cy="255.91" r="2.9" fill="url(#gal)"/>
<circle cx="120.83" cy="255.67" r="2.9" fill="url(#gal)"/>
<circle cx="122.4" cy="255.5" r="2.9" fill="url(#gal)"/>
<circle cx="208.4" cy="52.5" r="2.75" fill="url(#ga)"/>
<circle cx="187.2" cy="78.2" r="2.75" fill="url(#ga)"/>
<circle cx="169.7" cy="101.6" r="2.75" fill="url(#ga)"/>
<circle cx="155.1" cy="122.8" r="2.75" fill="url(#ga)"/>
<circle cx="143.7" cy="141.2" r="2.75" fill="url(#ga)"/>
<circle cx="134" cy="156.7" r="2.75" fill="url(#ga)"/>
<circle cx="125.8" cy="169.8" r="2.75" fill="url(#ga)"/>
<circle cx="118.5" cy="181.6" r="2.75" fill="url(#ga)"/>
<circle cx="111.4" cy="190.1" r="2.75" fill="url(#ga)"/>
<circle cx="104.3" cy="197.8" r="2.75" fill="url(#ga)"/>
<circle cx="97.7" cy="204.9" r="2.75" fill="url(#ga)"/>
<circle cx="91.8" cy="211.6" r="2.75" fill="url(#ga)"/>
<circle cx="86" cy="218.4" r="2.75" fill="url(#ga)"/>
<circle cx="80.8" cy="224.8" r="2.75" fill="url(#ga)"/>
<circle cx="76.3" cy="230.4" r="2.75" fill="url(#ga)"/>
<circle cx="72.4" cy="236.3" r="2.75" fill="url(#ga)"/>
<circle cx="69.2" cy="241.4" r="2.75" fill="url(#ga)"/>
<circle cx="66.8" cy="246.4" r="2.75" fill="url(#ga)"/>
<circle cx="64.8" cy="251" r="2.75" fill="url(#ga)"/>
<circle cx="63.1" cy="255.4" r="2.75" fill="url(#ga)"/>
<circle cx="61.7" cy="259.3" r="2.75" fill="url(#ga)"/>
<circle cx="60.5" cy="262.8" r="2.75" fill="url(#ga)"/>
<circle cx="59.5" cy="265.9" r="2.75" fill="url(#ga)"/>
<circle cx="58.7" cy="268.6" r="2.75" fill="url(#ga)"/>
<circle cx="58.1" cy="270.8" r="2.75" fill="url(#ga)"/>
<circle cx="57.7" cy="272.4" r="2.75" fill="url(#ga)"/>
<circle cx="466.3" cy="62.6" r="3" fill="url(#gbr)"/>
<circle cx="470.78" cy="62.74" r="3" fill="url(#gbr)"/>
<circle cx="475.26" cy="63.41" r="3" fill="url(#gbr)"/>
<circle cx="479.73" cy="64.08" r="3" fill="url(#gbr)"/>
<circle cx="484.21" cy="64.79" r="3" fill="url(#gbr)"/>
<circle cx="488.69" cy="65.72" r="3" fill="url(#gbr)"/>
<circle cx="493.17" cy="66.75" r="3" fill="url(#gbr)"/>
<circle cx="497.65" cy="68.35" r="3" fill="url(#gbr)"/>
<circle cx="502.12" cy="71.53" r="3" fill="url(#gbr)"/>
<circle cx="506.6" cy="85.83" r="3" fill="url(#gbr)"/>
<circle cx="511.08" cy="91.23" r="3" fill="url(#gbr)"/>
<circle cx="515.56" cy="92.64" r="3" fill="url(#gbr)"/>
<circle cx="520.04" cy="92.99" r="3" fill="url(#gbr)"/>
<circle cx="524.51" cy="95.07" r="3" fill="url(#gbr)"/>
<circle cx="528.99" cy="97.8" r="3" fill="url(#gbr)"/>
<circle cx="533.47" cy="98.09" r="3" fill="url(#gbr)"/>
<circle cx="537.95" cy="99.48" r="3" fill="url(#gbr)"/>
<circle cx="542.42" cy="101.13" r="3" fill="url(#gbr)"/>
<circle cx="546.9" cy="103.1" r="3" fill="url(#gbr)"/>
<circle cx="551.38" cy="105.31" r="3" fill="url(#gbr)"/>
<circle cx="555.86" cy="107.78" r="3" fill="url(#gbr)"/>
<circle cx="560.34" cy="110.4" r="3" fill="url(#gbr)"/>
<circle cx="564.81" cy="113.12" r="3" fill="url(#gbr)"/>
<circle cx="569.29" cy="115.95" r="3" fill="url(#gbr)"/>
<circle cx="573.77" cy="118.9" r="3" fill="url(#gbr)"/>
<circle cx="578.25" cy="121.9" r="3" fill="url(#gbr)"/>
<circle cx="582.73" cy="124.62" r="3" fill="url(#gbr)"/>
<circle cx="587.2" cy="127.14" r="3" fill="url(#gbr)"/>
<circle cx="591.68" cy="129.64" r="3" fill="url(#gbr)"/>
<circle cx="596.16" cy="132.09" r="3" fill="url(#gbr)"/>
<circle cx="600.64" cy="134.55" r="3" fill="url(#gbr)"/>
<circle cx="605.12" cy="137.02" r="3" fill="url(#gbr)"/>
<circle cx="609.59" cy="139.56" r="3" fill="url(#gbr)"/>
<circle cx="614.07" cy="142.28" r="3" fill="url(#gbr)"/>
<circle cx="618.55" cy="145.09" r="3" fill="url(#gbr)"/>
<circle cx="623.03" cy="147.85" r="3" fill="url(#gbr)"/>
<circle cx="627.51" cy="150.67" r="3" fill="url(#gbr)"/>
<circle cx="631.98" cy="153.88" r="3" fill="url(#gbr)"/>
<circle cx="636.46" cy="157.33" r="3" fill="url(#gbr)"/>
<circle cx="640.94" cy="160.68" r="3" fill="url(#gbr)"/>
<circle cx="645.42" cy="163.87" r="3" fill="url(#gbr)"/>
<circle cx="649.9" cy="167.03" r="3" fill="url(#gbr)"/>
<circle cx="654.37" cy="170.21" r="3" fill="url(#gbr)"/>
<circle cx="658.85" cy="173.39" r="3" fill="url(#gbr)"/>
<circle cx="663.33" cy="176.55" r="3" fill="url(#gbr)"/>
<circle cx="667.81" cy="179.68" r="3" fill="url(#gbr)"/>
<circle cx="672.29" cy="182.76" r="3" fill="url(#gbr)"/>
<circle cx="676.76" cy="185.76" r="3" fill="url(#gbr)"/>
<circle cx="681.24" cy="188.92" r="3" fill="url(#gbr)"/>
<circle cx="685.72" cy="192.36" r="3" fill="url(#gbr)"/>
<circle cx="690.2" cy="195.75" r="3" fill="url(#gbr)"/>
<circle cx="694.67" cy="198.75" r="3" fill="url(#gbr)"/>
<circle cx="699.15" cy="201.47" r="3" fill="url(#gbr)"/>
<circle cx="703.63" cy="203.82" r="3" fill="url(#gbr)"/>
<circle cx="708.11" cy="206.19" r="3" fill="url(#gbr)"/>
<circle cx="712.59" cy="208.56" r="3" fill="url(#gbr)"/>
<circle cx="717.06" cy="201.53" r="3" fill="url(#gbr)"/>
<circle cx="721.54" cy="203.62" r="3" fill="url(#gbr)"/>
<circle cx="726.02" cy="205.06" r="3" fill="url(#gbr)"/>
<circle cx="730.5" cy="206.18" r="3" fill="url(#gbr)"/>
<circle cx="734.98" cy="207.25" r="3" fill="url(#gbr)"/>
<circle cx="739.45" cy="208.23" r="3" fill="url(#gbr)"/>
<circle cx="743.93" cy="209.23" r="3" fill="url(#gbr)"/>
<circle cx="748.41" cy="210.22" r="3" fill="url(#gbr)"/>
<circle cx="752.89" cy="211.07" r="3" fill="url(#gbr)"/>
<circle cx="757.37" cy="211.48" r="3" fill="url(#gbr)"/>
<circle cx="761.84" cy="211.09" r="3" fill="url(#gbr)"/>
<circle cx="766.32" cy="210.43" r="3" fill="url(#gbr)"/>
<circle cx="770.8" cy="209.91" r="3" fill="url(#gbr)"/>
<circle cx="466.3" cy="68.72" r="3.1" fill="url(#gbk)"/>
<circle cx="470.78" cy="71.49" r="3.1" fill="url(#gbk)"/>
<circle cx="475.26" cy="73.4" r="3.1" fill="url(#gbk)"/>
<circle cx="479.73" cy="75.1" r="3.1" fill="url(#gbk)"/>
<circle cx="484.21" cy="76.82" r="3.1" fill="url(#gbk)"/>
<circle cx="488.69" cy="78.52" r="3.1" fill="url(#gbk)"/>
<circle cx="493.17" cy="80.2" r="3.1" fill="url(#gbk)"/>
<circle cx="497.65" cy="81.9" r="3.1" fill="url(#gbk)"/>
<circle cx="502.12" cy="83.66" r="3.1" fill="url(#gbk)"/>
<circle cx="506.6" cy="85.53" r="3.1" fill="url(#gbk)"/>
<circle cx="511.08" cy="87.59" r="3.1" fill="url(#gbk)"/>
<circle cx="515.56" cy="90.14" r="3.1" fill="url(#gbk)"/>
<circle cx="520.04" cy="92.69" r="3.1" fill="url(#gbk)"/>
<circle cx="524.51" cy="95.01" r="3.1" fill="url(#gbk)"/>
<circle cx="528.99" cy="97.5" r="3.1" fill="url(#gbk)"/>
<circle cx="533.47" cy="99.93" r="3.1" fill="url(#gbk)"/>
<circle cx="537.95" cy="102.52" r="3.1" fill="url(#gbk)"/>
<circle cx="542.42" cy="104.86" r="3.1" fill="url(#gbk)"/>
<circle cx="546.9" cy="107.02" r="3.1" fill="url(#gbk)"/>
<circle cx="551.38" cy="109.4" r="3.1" fill="url(#gbk)"/>
<circle cx="555.86" cy="112.31" r="3.1" fill="url(#gbk)"/>
<circle cx="560.34" cy="115.2" r="3.1" fill="url(#gbk)"/>
<circle cx="564.81" cy="117.75" r="3.1" fill="url(#gbk)"/>
<circle cx="569.29" cy="120.4" r="3.1" fill="url(#gbk)"/>
<circle cx="573.77" cy="123.33" r="3.1" fill="url(#gbk)"/>
<circle cx="578.25" cy="126.39" r="3.1" fill="url(#gbk)"/>
<circle cx="582.73" cy="129.57" r="3.1" fill="url(#gbk)"/>
<circle cx="587.2" cy="132.88" r="3.1" fill="url(#gbk)"/>
<circle cx="591.68" cy="135.85" r="3.1" fill="url(#gbk)"/>
<circle cx="596.16" cy="138.42" r="3.1" fill="url(#gbk)"/>
<circle cx="600.64" cy="140.98" r="3.1" fill="url(#gbk)"/>
<circle cx="605.12" cy="143.61" r="3.1" fill="url(#gbk)"/>
<circle cx="609.59" cy="146.34" r="3.1" fill="url(#gbk)"/>
<circle cx="614.07" cy="149.32" r="3.1" fill="url(#gbk)"/>
<circle cx="618.55" cy="152.42" r="3.1" fill="url(#gbk)"/>
<circle cx="623.03" cy="155.37" r="3.1" fill="url(#gbk)"/>
<circle cx="627.51" cy="158.27" r="3.1" fill="url(#gbk)"/>
<circle cx="631.98" cy="161.27" r="3.1" fill="url(#gbk)"/>
<circle cx="636.46" cy="164.34" r="3.1" fill="url(#gbk)"/>
<circle cx="640.94" cy="167.51" r="3.1" fill="url(#gbk)"/>
<circle cx="645.42" cy="170.88" r="3.1" fill="url(#gbk)"/>
<circle cx="649.9" cy="174.32" r="3.1" fill="url(#gbk)"/>
<circle cx="654.37" cy="177.66" r="3.1" fill="url(#gbk)"/>
<circle cx="658.85" cy="181.01" r="3.1" fill="url(#gbk)"/>
<circle cx="663.33" cy="184.52" r="3.1" fill="url(#gbk)"/>
<circle cx="667.81" cy="188.15" r="3.1" fill="url(#gbk)"/>
<circle cx="672.29" cy="192" r="3.1" fill="url(#gbk)"/>
<circle cx="676.76" cy="196.11" r="3.1" fill="url(#gbk)"/>
<circle cx="681.24" cy="200.41" r="3.1" fill="url(#gbk)"/>
<circle cx="685.72" cy="205.58" r="3.1" fill="url(#gbk)"/>
<circle cx="690.2" cy="210.8" r="3.1" fill="url(#gbk)"/>
<circle cx="694.67" cy="215.08" r="3.1" fill="url(#gbk)"/>
<circle cx="699.15" cy="218.91" r="3.1" fill="url(#gbk)"/>
<circle cx="703.63" cy="222.45" r="3.1" fill="url(#gbk)"/>
<circle cx="708.11" cy="225.65" r="3.1" fill="url(#gbk)"/>
<circle cx="712.59" cy="228.39" r="3.1" fill="url(#gbk)"/>
<circle cx="717.06" cy="230.43" r="3.1" fill="url(#gbk)"/>
<circle cx="721.54" cy="231.84" r="3.1" fill="url(#gbk)"/>
<circle cx="726.02" cy="232.94" r="3.1" fill="url(#gbk)"/>
<circle cx="730.5" cy="233.9" r="3.1" fill="url(#gbk)"/>
<circle cx="734.98" cy="234.75" r="3.1" fill="url(#gbk)"/>
<circle cx="739.45" cy="235.52" r="3.1" fill="url(#gbk)"/>
<circle cx="743.93" cy="236.25" r="3.1" fill="url(#gbk)"/>
<circle cx="748.41" cy="236.95" r="3.1" fill="url(#gbk)"/>
<circle cx="752.89" cy="237.65" r="3.1" fill="url(#gbk)"/>
<circle cx="757.37" cy="238.36" r="3.1" fill="url(#gbk)"/>
<circle cx="761.84" cy="239.22" r="3.1" fill="url(#gbk)"/>
<circle cx="766.32" cy="240.26" r="3.1" fill="url(#gbk)"/>
<circle cx="770.8" cy="241.45" r="3.1" fill="url(#gbk)"/>
<polyline points="462.5,66 463.28,66.07 464.06,66.13 464.84,66.2 465.62,66.27 466.4,66.33 467.18,66.4 467.96,66.46 468.74,66.53 469.52,66.59 470.29,66.66 471.07,66.72 471.85,66.79 472.63,66.85 473.41,66.91 474.19,66.97 474.97,67.02 475.75,67.08 476.53,67.14 477.31,67.2 478.09,67.26 478.87,67.32 479.65,67.39 480.43,67.47 481.21,67.56 481.99,67.65 482.77,67.74 483.55,67.85 484.32,67.96 485.1,68.08 485.88,68.21 486.66,68.35 487.44,68.49 488.22,68.64 489,68.82 489.78,69.01 490.56,69.22 491.34,69.44 492.12,69.67 492.9,69.91 493.68,70.15 494.46,70.4 495.24,70.67 496.02,70.95 496.8,71.24 497.58,71.53 498.35,71.84 499.13,72.15 499.91,72.47 500.69,72.81 501.47,73.18 502.25,73.57 503.03,73.99 503.81,74.46 504.59,74.96 505.37,75.5 506.15,76.09 506.93,76.74 507.71,77.51 508.49,78.43 509.27,79.42 510.05,80.39 510.83,81.22 511.61,81.95 512.38,82.63 513.16,83.28 513.94,83.9 514.72,84.5 515.5,85.08 516.28,85.67 517.06,86.26 517.84,86.87 518.62,87.48 519.4,88.09 520.18,88.68 520.96,89.23 521.74,89.76 522.52,90.25 523.3,90.73 524.08,91.19 524.86,91.65 525.64,92.09 526.41,92.54 527.19,93 527.97,93.45 528.75,93.91 529.53,94.36 530.31,94.81 531.09,95.25 531.87,95.71 532.65,96.18 533.43,96.65 534.21,97.11 534.99,97.56 535.77,97.99 536.55,98.39 537.33,98.75 538.11,99.08 538.89,99.39 539.67,99.69 540.44,99.97 541.22,100.25 542,100.52 542.78,100.79 543.56,101.07 544.34,101.35 545.12,101.65 545.9,101.94 546.68,102.24 547.46,102.54 548.24,102.84 549.02,103.17 549.8,103.51 550.58,103.87 551.36,104.27 552.14,104.68 552.92,105.11 553.7,105.56 554.47,106.02 555.25,106.48 556.03,106.96 556.81,107.44 557.59,107.93 558.37,108.41 559.15,108.89 559.93,109.36 560.71,109.83 561.49,110.3 562.27,110.77 563.05,111.25 563.83,111.73 564.61,112.21 565.39,112.69 566.17,113.18 566.95,113.66 567.73,114.16 568.51,114.65 569.28,115.14 570.06,115.64 570.84,116.14 571.62,116.66 572.4,117.18 573.18,117.7 573.96,118.22 574.74,118.75 575.52,119.28 576.3,119.8 577.08,120.32 577.86,120.84 578.64,121.34 579.42,121.84 580.2,122.32 580.98,122.8 581.76,123.27 582.54,123.73 583.31,124.19 584.09,124.65 584.87,125.1 585.65,125.55 586.43,125.99 587.21,126.43 587.99,126.87 588.77,127.31 589.55,127.75 590.33,128.18 591.11,128.61 591.89,129.04 592.67,129.46 593.45,129.88 594.23,130.3 595.01,130.72 595.79,131.13 596.57,131.55 597.34,131.96 598.12,132.38 598.9,132.8 599.68,133.23 600.46,133.65 601.24,134.08 602.02,134.51 602.8,134.94 603.58,135.37 604.36,135.8 605.14,136.23 605.92,136.66 606.7,137.1 607.48,137.54 608.26,137.99 609.04,138.44 609.82,138.89 610.6,139.35 611.37,139.82 612.15,140.29 612.93,140.77 613.71,141.25 614.49,141.73 615.27,142.22 616.05,142.71 616.83,143.2 617.61,143.69 618.39,144.18 619.17,144.68 619.95,145.17 620.73,145.66 621.51,146.15 622.29,146.64 623.07,147.13 623.85,147.62 624.63,148.11 625.4,148.61 626.18,149.11 626.96,149.61 627.74,150.11 628.52,150.62 629.3,151.14 630.08,151.65 630.86,152.18 631.64,152.71 632.42,153.25 633.2,153.79 633.98,154.34 634.76,154.89 635.54,155.44 636.32,156 637.1,156.55 637.88,157.1 638.66,157.65 639.43,158.2 640.21,158.75 640.99,159.29 641.77,159.84 642.55,160.38 643.33,160.93 644.11,161.47 644.89,162.01 645.67,162.56 646.45,163.1 647.23,163.65 648.01,164.19 648.79,164.74 649.57,165.29 650.35,165.85 651.13,166.4 651.91,166.96 652.69,167.52 653.46,168.08 654.24,168.64 655.02,169.2 655.8,169.77 656.58,170.33 657.36,170.9 658.14,171.46 658.92,172.02 659.7,172.58 660.48,173.15 661.26,173.71 662.04,174.27 662.82,174.83 663.6,175.39 664.38,175.95 665.16,176.51 665.94,177.07 666.72,177.64 667.49,178.2 668.27,178.76 669.05,179.32 669.83,179.88 670.61,180.44 671.39,181 672.17,181.56 672.95,182.12 673.73,182.68 674.51,183.24 675.29,183.8 676.07,184.36 676.85,184.92 677.63,185.48 678.41,186.04 679.19,186.61 679.97,187.18 680.75,187.75 681.53,188.33 682.3,188.92 683.08,189.51 683.86,190.1 684.64,190.7 685.42,191.29 686.2,191.88 686.98,192.46 687.76,193.03 688.54,193.59 689.32,194.13 690.1,194.67 690.88,195.19 691.66,195.7 692.44,196.21 693.22,196.71 694,197.2 694.78,197.68 695.56,198.16 696.33,198.64 697.11,199.11 697.89,199.57 698.67,200.03 699.45,200.48 700.23,200.93 701.01,201.38 701.79,201.83 702.57,202.28 703.35,202.72 704.13,203.15 704.91,203.57 705.69,203.97 706.47,204.35 707.25,204.71 708.03,205.08 708.81,205.45 709.59,205.8 710.36,206.11 711.14,206.38 711.92,206.58 712.7,206.74 713.48,206.87 714.26,206.99 715.04,207.09 715.82,207.18 716.6,207.27 717.38,207.34 718.16,207.41 718.94,207.48 719.72,207.53 720.5,207.58 721.28,207.62 722.06,207.67 722.84,207.72 723.62,207.77 724.39,207.83 725.17,207.9 725.95,207.96 726.73,208.03 727.51,208.1 728.29,208.17 729.07,208.25 729.85,208.33 730.63,208.41 731.41,208.5 732.19,208.59 732.97,208.68 733.75,208.78 734.53,208.89 735.31,209 736.09,209.13 736.87,209.27 737.65,209.41 738.42,209.56 739.2,209.71 739.98,209.87 740.76,210.02 741.54,210.16 742.32,210.3 743.1,210.43 743.88,210.57 744.66,210.7 745.44,210.84 746.22,210.97 747,211.11 747.78,211.24 748.56,211.36 749.34,211.48 750.12,211.59 750.9,211.69 751.68,211.78 752.45,211.86 753.23,211.94 754.01,212.02 754.79,212.09 755.57,212.17 756.35,212.23 757.13,212.29 757.91,212.34 758.69,212.38 759.47,212.4 760.25,212.4 761.03,212.39 761.81,212.36 762.59,212.32 763.37,212.27 764.15,212.22 764.93,212.16 765.71,212.1 766.48,212.04 767.26,211.98 768.04,211.92 768.82,211.86 769.6,211.79 770.38,211.72 771.16,211.64 771.94,211.57 772.72,211.48 773.5,211.4" fill="none" stroke="#ff0000" stroke-width="2.0" stroke-linejoin="round" stroke-linecap="round" />
<polyline points="862,230.6 862.78,230.31 863.55,230.01 864.33,229.71 865.1,229.41 865.88,229.11 866.65,228.81 867.43,228.5 868.21,228.2 868.98,227.89 869.76,227.58 870.53,227.27 871.31,226.95 872.08,226.64 872.86,226.32 873.64,226 874.41,225.68 875.19,225.35 875.96,225.03 876.74,224.7 877.51,224.37 878.29,224.04 879.07,223.71 879.84,223.38 880.62,223.05 881.39,222.71 882.17,222.37 882.94,222.04 883.72,221.69 884.49,221.35 885.27,221.01 886.05,220.66 886.82,220.31 887.6,219.95 888.37,219.6 889.15,219.24 889.92,218.87 890.7,218.51 891.48,218.14 892.25,217.76 893.03,217.39 893.8,217.01 894.58,216.63 895.35,216.25 896.13,215.87 896.91,215.49 897.68,215.11 898.46,214.72 899.23,214.34 900.01,213.95 900.78,213.56 901.56,213.17 902.34,212.77 903.11,212.37 903.89,211.96 904.66,211.55 905.44,211.13 906.21,210.71 906.99,210.28 907.77,209.85 908.54,209.41 909.32,208.96 910.09,208.51 910.87,208.05 911.64,207.57 912.42,207.1 913.2,206.61 913.97,206.11 914.75,205.6 915.52,205.08 916.3,204.53 917.07,203.96 917.85,203.37 918.63,202.76 919.4,202.14 920.18,201.5 920.95,200.85 921.73,200.18 922.5,199.51 923.28,198.83 924.06,198.15 924.83,197.46 925.61,196.77 926.38,196.09 927.16,195.4 927.93,194.72 928.71,194.05 929.48,193.39 930.26,192.73 931.04,192.09 931.81,191.47 932.59,190.84 933.36,190.21 934.14,189.57 934.91,188.94 935.69,188.3 936.47,187.67 937.24,187.03 938.02,186.4 938.79,185.76 939.57,185.13 940.34,184.51 941.12,183.88 941.9,183.26 942.67,182.65 943.45,182.04 944.22,181.43 945,180.83 945.77,180.24 946.55,179.66 947.33,179.09 948.1,178.52 948.88,177.96 949.65,177.42 950.43,176.88 951.2,176.36 951.98,175.83 952.76,175.31 953.53,174.79 954.31,174.27 955.08,173.75 955.86,173.23 956.63,172.71 957.41,172.2 958.19,171.69 958.96,171.18 959.74,170.68 960.51,170.18 961.29,169.69 962.06,169.2 962.84,168.71 963.62,168.23 964.39,167.75 965.17,167.28 965.94,166.82 966.72,166.36 967.49,165.91 968.27,165.47 969.05,165.04 969.82,164.61 970.6,164.19 971.37,163.78 972.15,163.37 972.92,162.98 973.7,162.59 974.47,162.22 975.25,161.85 976.03,161.5 976.8,161.15 977.58,160.82 978.35,160.5 979.13,160.18 979.9,159.88 980.68,159.59 981.46,159.31 982.23,159.03 983.01,158.77 983.78,158.51 984.56,158.25 985.33,158 986.11,157.76 986.89,157.52 987.66,157.29 988.44,157.05 989.21,156.82 989.99,156.59 990.76,156.37 991.54,156.14 992.32,155.91 993.09,155.68 993.87,155.45 994.64,155.22 995.42,154.99 996.19,154.75 996.97,154.5 997.75,154.26 998.52,154 999.3,153.74 1000.07,153.47 1000.85,153.2 1001.62,152.93 1002.4,152.65 1003.18,152.37 1003.95,152.09 1004.73,151.8 1005.5,151.51 1006.28,151.22 1007.05,150.93 1007.83,150.64 1008.61,150.34 1009.38,150.05 1010.16,149.75 1010.93,149.45 1011.71,149.16 1012.48,148.86 1013.26,148.56 1014.04,148.26 1014.81,147.97 1015.59,147.67 1016.36,147.37 1017.14,147.08 1017.91,146.78 1018.69,146.49 1019.46,146.2 1020.24,145.91 1021.02,145.62 1021.79,145.33 1022.57,145.04 1023.34,144.75 1024.12,144.46 1024.89,144.17 1025.67,143.88 1026.45,143.59 1027.22,143.3 1028,143.01 1028.77,142.72 1029.55,142.43 1030.32,142.14 1031.1,141.85 1031.88,141.56 1032.65,141.28 1033.43,140.99 1034.2,140.7 1034.98,140.42 1035.75,140.13 1036.53,139.85 1037.31,139.57 1038.08,139.29 1038.86,139.01 1039.63,138.73 1040.41,138.45 1041.18,138.18 1041.96,137.9 1042.74,137.61 1043.51,137.33 1044.29,137.05 1045.06,136.76 1045.84,136.48 1046.61,136.2 1047.39,135.91 1048.17,135.63 1048.94,135.35 1049.72,135.06 1050.49,134.78 1051.27,134.5 1052.04,134.23 1052.82,133.95 1053.6,133.67 1054.37,133.4 1055.15,133.13 1055.92,132.86 1056.7,132.6 1057.47,132.34 1058.25,132.08 1059.03,131.82 1059.8,131.57 1060.58,131.32 1061.35,131.08 1062.13,130.84 1062.9,130.61 1063.68,130.38 1064.45,130.15 1065.23,129.94 1066.01,129.71 1066.78,129.49 1067.56,129.26 1068.33,129.04 1069.11,128.81 1069.88,128.58 1070.66,128.35 1071.44,128.12 1072.21,127.9 1072.99,127.68 1073.76,127.46 1074.54,127.25 1075.31,127.04 1076.09,126.84 1076.87,126.64 1077.64,126.46 1078.42,126.28 1079.19,126.11 1079.97,125.95 1080.74,125.8 1081.52,125.66 1082.3,125.53 1083.07,125.42 1083.85,125.32 1084.62,125.24 1085.4,125.16 1086.17,125.09 1086.95,125.03 1087.73,124.96 1088.5,124.9 1089.28,124.84 1090.05,124.78 1090.83,124.73 1091.6,124.69 1092.38,124.66 1093.16,124.63 1093.93,124.61 1094.71,124.6 1095.48,124.61 1096.26,124.65 1097.03,124.72 1097.81,124.81 1098.59,124.94 1099.36,125.09 1100.14,125.26 1100.91,125.44 1101.69,125.64 1102.46,125.86 1103.24,126.08 1104.02,126.31 1104.79,126.54 1105.57,126.78 1106.34,127.08 1107.12,127.43 1107.89,127.83 1108.67,128.26 1109.44,128.72 1110.22,129.22 1111,129.74 1111.77,130.27 1112.55,130.82 1113.32,131.38 1114.1,131.95 1114.87,132.51 1115.65,133.08 1116.43,133.66 1117.2,134.27 1117.98,134.89 1118.75,135.54 1119.53,136.21 1120.3,136.9 1121.08,137.62 1121.86,138.35 1122.63,139.12 1123.41,139.9 1124.18,140.72 1124.96,141.55 1125.73,142.45 1126.51,143.42 1127.29,144.46 1128.06,145.54 1128.84,146.64 1129.61,147.76 1130.39,148.87 1131.16,149.95 1131.94,151.01 1132.72,152.07 1133.49,153.14 1134.27,154.2 1135.04,155.27 1135.82,156.35 1136.59,157.43 1137.37,158.52 1138.15,159.61 1138.92,160.7 1139.7,161.79 1140.47,162.89 1141.25,164 1142.02,165.12 1142.8,166.26 1143.58,167.41 1144.35,168.59 1145.13,169.79 1145.9,171 1146.68,172.23 1147.45,173.47 1148.23,174.73 1149.01,175.98 1149.78,177.24 1150.56,178.51 1151.33,179.79 1152.11,181.09 1152.88,182.39 1153.66,183.69 1154.43,184.99 1155.21,186.29 1155.99,187.58 1156.76,188.87 1157.54,190.17 1158.31,191.47 1159.09,192.77 1159.86,194.05 1160.64,195.3 1161.42,196.52 1162.19,197.68 1162.97,198.8 1163.74,199.89 1164.52,200.95 1165.29,201.99 1166.07,203.02 1166.85,204.05 1167.62,205.1 1168.4,206.15 1169.17,207.19 1169.95,208.23 1170.72,209.27 1171.5,210.3" fill="none" stroke="#555555" stroke-width="1.8" stroke-linejoin="round" stroke-linecap="round" />
<circle cx="865.8" cy="220.08" r="2.8" fill="url(#gcg)"/>
<circle cx="870.27" cy="219.8" r="2.8" fill="url(#gcg)"/>
<circle cx="874.74" cy="219.51" r="2.8" fill="url(#gcg)"/>
<circle cx="879.2" cy="219.07" r="2.8" fill="url(#gcg)"/>
<circle cx="883.67" cy="218.46" r="2.8" fill="url(#gcg)"/>
<circle cx="888.14" cy="217.67" r="2.8" fill="url(#gcg)"/>
<circle cx="892.61" cy="216.55" r="2.8" fill="url(#gcg)"/>
<circle cx="897.07" cy="215.1" r="2.8" fill="url(#gcg)"/>
<circle cx="901.54" cy="213.47" r="2.8" fill="url(#gcg)"/>
<circle cx="906.01" cy="211.68" r="2.8" fill="url(#gcg)"/>
<circle cx="910.48" cy="209.6" r="2.8" fill="url(#gcg)"/>
<circle cx="914.94" cy="207.17" r="2.8" fill="url(#gcg)"/>
<circle cx="919.41" cy="204.11" r="2.8" fill="url(#gcg)"/>
<circle cx="923.88" cy="200.46" r="2.8" fill="url(#gcg)"/>
<circle cx="928.35" cy="196.69" r="2.8" fill="url(#gcg)"/>
<circle cx="932.81" cy="192.96" r="2.8" fill="url(#gcg)"/>
<circle cx="937.28" cy="189.11" r="2.8" fill="url(#gcg)"/>
<circle cx="941.75" cy="185.18" r="2.8" fill="url(#gcg)"/>
<circle cx="946.22" cy="181.12" r="2.8" fill="url(#gcg)"/>
<circle cx="950.69" cy="177.1" r="2.8" fill="url(#gcg)"/>
<circle cx="955.15" cy="173.34" r="2.8" fill="url(#gcg)"/>
<circle cx="959.62" cy="169.66" r="2.8" fill="url(#gcg)"/>
<circle cx="964.09" cy="166.57" r="2.8" fill="url(#gcg)"/>
<circle cx="968.56" cy="164.34" r="2.8" fill="url(#gcg)"/>
<circle cx="973.02" cy="162.51" r="2.8" fill="url(#gcg)"/>
<circle cx="977.49" cy="160.83" r="2.8" fill="url(#gcg)"/>
<circle cx="981.96" cy="159.24" r="2.8" fill="url(#gcg)"/>
<circle cx="986.43" cy="157.72" r="2.8" fill="url(#gcg)"/>
<circle cx="990.89" cy="156.2" r="2.8" fill="url(#gcg)"/>
<circle cx="995.36" cy="154.68" r="2.8" fill="url(#gcg)"/>
<circle cx="999.83" cy="153.08" r="2.8" fill="url(#gcg)"/>
<circle cx="1004.3" cy="151.32" r="2.8" fill="url(#gcg)"/>
<circle cx="1008.76" cy="149.28" r="2.8" fill="url(#gcg)"/>
<circle cx="1013.23" cy="147.16" r="2.8" fill="url(#gcg)"/>
<circle cx="1017.7" cy="145.17" r="2.8" fill="url(#gcg)"/>
<circle cx="1022.17" cy="143.43" r="2.8" fill="url(#gcg)"/>
<circle cx="1026.64" cy="141.83" r="2.8" fill="url(#gcg)"/>
<circle cx="1031.1" cy="140.28" r="2.8" fill="url(#gcg)"/>
<circle cx="1035.57" cy="138.73" r="2.8" fill="url(#gcg)"/>
<circle cx="1040.04" cy="137.17" r="2.8" fill="url(#gcg)"/>
<circle cx="1044.51" cy="135.64" r="2.8" fill="url(#gcg)"/>
<circle cx="1048.97" cy="134.1" r="2.8" fill="url(#gcg)"/>
<circle cx="1053.44" cy="132.55" r="2.8" fill="url(#gcg)"/>
<circle cx="1057.91" cy="130.97" r="2.8" fill="url(#gcg)"/>
<circle cx="1062.38" cy="129.41" r="2.8" fill="url(#gcg)"/>
<circle cx="1066.84" cy="127.92" r="2.8" fill="url(#gcg)"/>
<circle cx="1071.31" cy="126.49" r="2.8" fill="url(#gcg)"/>
<circle cx="1075.78" cy="125.12" r="2.8" fill="url(#gcg)"/>
<circle cx="1080.25" cy="123.81" r="2.8" fill="url(#gcg)"/>
<circle cx="1084.71" cy="122.57" r="2.8" fill="url(#gcg)"/>
<circle cx="1089.18" cy="121.5" r="2.8" fill="url(#gcg)"/>
<circle cx="1093.65" cy="120.71" r="2.8" fill="url(#gcg)"/>
<circle cx="1098.12" cy="120.22" r="2.8" fill="url(#gcg)"/>
<circle cx="1102.59" cy="120.48" r="2.8" fill="url(#gcg)"/>
<circle cx="1107.05" cy="121.08" r="2.8" fill="url(#gcg)"/>
<circle cx="1111.52" cy="121.93" r="2.8" fill="url(#gcg)"/>
<circle cx="1115.99" cy="123.5" r="2.8" fill="url(#gcg)"/>
<circle cx="1120.46" cy="125.67" r="2.8" fill="url(#gcg)"/>
<circle cx="1124.92" cy="129.13" r="2.8" fill="url(#gcg)"/>
<circle cx="1129.39" cy="134.39" r="2.8" fill="url(#gcg)"/>
<circle cx="1133.86" cy="140.71" r="2.8" fill="url(#gcg)"/>
<circle cx="1138.33" cy="147.56" r="2.8" fill="url(#gcg)"/>
<circle cx="1142.79" cy="154.85" r="2.8" fill="url(#gcg)"/>
<circle cx="1147.26" cy="161.5" r="2.8" fill="url(#gcg)"/>
<circle cx="1151.73" cy="169.86" r="2.8" fill="url(#gcg)"/>
<circle cx="1156.2" cy="178.77" r="2.8" fill="url(#gcg)"/>
<circle cx="1160.66" cy="188.12" r="2.8" fill="url(#gcg)"/>
<circle cx="1165.13" cy="197.95" r="2.8" fill="url(#gcg)"/>
<circle cx="1169.6" cy="210" r="2.8" fill="url(#gcg)"/>
<polyline points="861.6,154.8 862.38,154.8 863.17,154.8 863.95,154.8 864.73,154.8 865.51,154.8 866.3,154.81 867.08,154.83 867.86,154.87 868.65,154.92 869.43,154.98 870.21,155.04 871,155.1 871.78,155.16 872.56,155.22 873.34,155.28 874.13,155.33 874.91,155.37 875.69,155.39 876.48,155.4 877.26,155.4 878.04,155.4 878.83,155.4 879.61,155.4 880.39,155.4 881.17,155.4 881.96,155.4 882.74,155.4 883.52,155.4 884.31,155.4 885.09,155.4 885.87,155.4 886.65,155.4 887.44,155.4 888.22,155.39 889,155.36 889.79,155.31 890.57,155.24 891.35,155.15 892.14,155.04 892.92,154.93 893.7,154.8 894.48,154.65 895.27,154.5 896.05,154.34 896.83,154.17 897.62,154 898.4,153.82 899.18,153.62 899.96,153.37 900.75,153.07 901.53,152.72 902.31,152.34 903.1,151.92 903.88,151.48 904.66,151.02 905.45,150.54 906.23,150.05 907.01,149.55 907.79,149.06 908.58,148.56 909.36,148.08 910.14,147.61 910.93,147.11 911.71,146.6 912.49,146.08 913.28,145.54 914.06,144.99 914.84,144.43 915.62,143.87 916.41,143.3 917.19,142.73 917.97,142.16 918.76,141.59 919.54,141.02 920.32,140.46 921.1,139.89 921.89,139.32 922.67,138.74 923.45,138.15 924.24,137.55 925.02,136.96 925.8,136.37 926.59,135.78 927.37,135.2 928.15,134.62 928.93,134.06 929.72,133.5 930.5,132.97 931.28,132.45 932.07,131.94 932.85,131.43 933.63,130.94 934.42,130.45 935.2,129.97 935.98,129.49 936.76,129.03 937.55,128.56 938.33,128.11 939.11,127.66 939.9,127.22 940.68,126.79 941.46,126.36 942.24,125.94 943.03,125.52 943.81,125.11 944.59,124.71 945.38,124.31 946.16,123.92 946.94,123.54 947.73,123.16 948.51,122.78 949.29,122.41 950.07,122.04 950.86,121.68 951.64,121.32 952.42,120.97 953.21,120.62 953.99,120.27 954.77,119.93 955.55,119.59 956.34,119.25 957.12,118.91 957.9,118.58 958.69,118.25 959.47,117.93 960.25,117.61 961.04,117.29 961.82,116.98 962.6,116.67 963.38,116.37 964.17,116.07 964.95,115.78 965.73,115.49 966.52,115.21 967.3,114.93 968.08,114.65 968.87,114.37 969.65,114.1 970.43,113.84 971.21,113.57 972,113.31 972.78,113.05 973.56,112.8 974.35,112.55 975.13,112.3 975.91,112.06 976.69,111.82 977.48,111.58 978.26,111.34 979.04,111.1 979.83,110.87 980.61,110.64 981.39,110.41 982.18,110.19 982.96,109.97 983.74,109.75 984.52,109.54 985.31,109.33 986.09,109.13 986.87,108.93 987.66,108.74 988.44,108.55 989.22,108.37 990.01,108.2 990.79,108.03 991.57,107.87 992.35,107.7 993.14,107.54 993.92,107.38 994.7,107.22 995.49,107.06 996.27,106.9 997.05,106.74 997.83,106.57 998.62,106.4 999.4,106.22 1000.18,106.04 1000.97,105.87 1001.75,105.69 1002.53,105.51 1003.32,105.33 1004.1,105.15 1004.88,104.97 1005.66,104.78 1006.45,104.6 1007.23,104.41 1008.01,104.23 1008.8,104.04 1009.58,103.85 1010.36,103.67 1011.14,103.48 1011.93,103.29 1012.71,103.1 1013.49,102.92 1014.28,102.73 1015.06,102.54 1015.84,102.35 1016.63,102.15 1017.41,101.96 1018.19,101.75 1018.97,101.55 1019.76,101.34 1020.54,101.13 1021.32,100.91 1022.11,100.69 1022.89,100.46 1023.67,100.23 1024.46,100 1025.24,99.76 1026.02,99.52 1026.8,99.28 1027.59,99.03 1028.37,98.77 1029.15,98.51 1029.94,98.24 1030.72,97.97 1031.5,97.69 1032.28,97.41 1033.07,97.11 1033.85,96.8 1034.63,96.49 1035.42,96.16 1036.2,95.83 1036.98,95.48 1037.77,95.13 1038.55,94.78 1039.33,94.42 1040.11,94.05 1040.9,93.68 1041.68,93.31 1042.46,92.93 1043.25,92.54 1044.03,92.15 1044.81,91.75 1045.59,91.33 1046.38,90.9 1047.16,90.45 1047.94,89.98 1048.73,89.5 1049.51,89 1050.29,88.47 1051.08,87.91 1051.86,87.32 1052.64,86.69 1053.42,86.01 1054.21,85.3 1054.99,84.56 1055.77,83.81 1056.56,83.05 1057.34,82.24 1058.12,81.39 1058.91,80.54 1059.69,79.71 1060.47,78.92 1061.25,78.19 1062.04,77.48 1062.82,76.79 1063.6,76.12 1064.39,75.47 1065.17,74.83 1065.95,74.19 1066.73,73.56 1067.52,72.94 1068.3,72.34 1069.08,71.77 1069.87,71.22 1070.65,70.67 1071.43,70.1 1072.22,69.54 1073,69.05 1073.78,68.65 1074.56,68.41 1075.35,68.26 1076.13,68.13 1076.91,68.03 1077.7,67.95 1078.48,67.91 1079.26,67.92 1080.05,68.04 1080.83,68.28 1081.61,68.6 1082.39,68.97 1083.18,69.38 1083.96,69.84 1084.74,70.47 1085.53,71.25 1086.31,72.14 1087.09,73.11 1087.87,74.13 1088.66,75.24 1089.44,76.51 1090.22,77.92 1091.01,79.44 1091.79,81.06 1092.57,82.74 1093.36,84.55 1094.14,86.53 1094.92,88.64 1095.7,90.83 1096.49,93.06 1097.27,95.28 1098.05,97.53 1098.84,99.84 1099.62,102.18 1100.4,104.57 1101.18,106.99 1101.97,109.44 1102.75,111.93 1103.53,114.45 1104.32,117.01 1105.1,119.61 1105.88,122.24 1106.67,124.91 1107.45,127.64 1108.23,130.41 1109.01,133.22 1109.8,136.05 1110.58,138.88 1111.36,141.72 1112.15,144.62 1112.93,147.55 1113.71,150.45 1114.5,153.26 1115.28,155.94 1116.06,158.53 1116.84,161.06 1117.63,163.53 1118.41,165.93 1119.19,168.27 1119.98,170.53 1120.76,172.72 1121.54,174.85 1122.32,176.91 1123.11,178.93 1123.89,180.9 1124.67,182.84 1125.46,184.77 1126.24,186.67 1127.02,188.54 1127.81,190.38 1128.59,192.16 1129.37,193.88 1130.15,195.53 1130.94,197.1 1131.72,198.62 1132.5,200.08 1133.29,201.51 1134.07,202.92 1134.85,204.29 1135.64,205.61 1136.42,206.9 1137.2,208.19 1137.98,209.51 1138.77,210.87 1139.55,212.23 1140.33,213.61 1141.12,215.01 1141.9,216.46 1142.68,217.97 1143.46,219.6 1144.25,221.38 1145.03,223.23 1145.81,225.07 1146.6,226.81 1147.38,228.38 1148.16,229.75 1148.95,230.99 1149.73,232.17 1150.51,233.29 1151.29,234.42 1152.08,235.57 1152.86,236.74 1153.64,237.91 1154.43,239.07 1155.21,240.23 1155.99,241.4 1156.77,242.56 1157.56,243.75 1158.34,244.99 1159.12,246.25 1159.91,247.51 1160.69,248.71 1161.47,249.81 1162.26,250.78 1163.04,251.67 1163.82,252.49 1164.6,253.24 1165.39,253.9 1166.17,254.45 1166.95,254.96 1167.74,255.41 1168.52,255.82 1169.3,256.17 1170.09,256.47 1170.87,256.73 1171.65,256.98 1172.43,257.19 1173.22,257.37 1174,257.5" fill="none" stroke="#ff0000" stroke-width="1.9" stroke-linejoin="round" stroke-linecap="round" />
<circle cx="865.8" cy="154.8" r="3" fill="url(#gcr)"/>
<circle cx="870.27" cy="155.04" r="3" fill="url(#gcr)"/>
<circle cx="874.74" cy="155.36" r="3" fill="url(#gcr)"/>
<circle cx="879.2" cy="155.4" r="3" fill="url(#gcr)"/>
<circle cx="883.67" cy="155.4" r="3" fill="url(#gcr)"/>
<circle cx="888.14" cy="155.39" r="3" fill="url(#gcr)"/>
<circle cx="892.61" cy="154.98" r="3" fill="url(#gcr)"/>
<circle cx="897.07" cy="154.12" r="3" fill="url(#gcr)"/>
<circle cx="901.54" cy="152.72" r="3" fill="url(#gcr)"/>
<circle cx="906.01" cy="150.19" r="3" fill="url(#gcr)"/>
<circle cx="910.48" cy="147.4" r="3" fill="url(#gcr)"/>
<circle cx="914.94" cy="144.36" r="3" fill="url(#gcr)"/>
<circle cx="919.41" cy="141.11" r="3" fill="url(#gcr)"/>
<circle cx="923.88" cy="137.83" r="3" fill="url(#gcr)"/>
<circle cx="928.35" cy="134.48" r="3" fill="url(#gcr)"/>
<circle cx="932.81" cy="131.46" r="3" fill="url(#gcr)"/>
<circle cx="937.28" cy="128.72" r="3" fill="url(#gcr)"/>
<circle cx="941.75" cy="126.2" r="3" fill="url(#gcr)"/>
<circle cx="946.22" cy="123.89" r="3" fill="url(#gcr)"/>
<circle cx="950.69" cy="121.76" r="3" fill="url(#gcr)"/>
<circle cx="955.15" cy="119.76" r="3" fill="url(#gcr)"/>
<circle cx="959.62" cy="117.87" r="3" fill="url(#gcr)"/>
<circle cx="964.09" cy="116.1" r="3" fill="url(#gcr)"/>
<circle cx="968.56" cy="114.48" r="3" fill="url(#gcr)"/>
<circle cx="973.02" cy="112.97" r="3" fill="url(#gcr)"/>
<circle cx="977.49" cy="111.57" r="3" fill="url(#gcr)"/>
<circle cx="981.96" cy="110.25" r="3" fill="url(#gcr)"/>
<circle cx="986.43" cy="109.04" r="3" fill="url(#gcr)"/>
<circle cx="990.89" cy="108.01" r="3" fill="url(#gcr)"/>
<circle cx="995.36" cy="107.09" r="3" fill="url(#gcr)"/>
<circle cx="999.83" cy="106.12" r="3" fill="url(#gcr)"/>
<circle cx="1004.3" cy="105.1" r="3" fill="url(#gcr)"/>
<circle cx="1008.76" cy="104.05" r="3" fill="url(#gcr)"/>
<circle cx="1013.23" cy="102.98" r="3" fill="url(#gcr)"/>
<circle cx="1017.7" cy="101.88" r="3" fill="url(#gcr)"/>
<circle cx="1022.17" cy="100.67" r="3" fill="url(#gcr)"/>
<circle cx="1026.64" cy="99.33" r="3" fill="url(#gcr)"/>
<circle cx="1031.1" cy="97.84" r="3" fill="url(#gcr)"/>
<circle cx="1035.57" cy="96.1" r="3" fill="url(#gcr)"/>
<circle cx="1040.04" cy="94.08" r="3" fill="url(#gcr)"/>
<circle cx="1044.51" cy="91.91" r="3" fill="url(#gcr)"/>
<circle cx="1048.97" cy="89.35" r="3" fill="url(#gcr)"/>
<circle cx="1053.44" cy="85.99" r="3" fill="url(#gcr)"/>
<circle cx="1057.91" cy="81.63" r="3" fill="url(#gcr)"/>
<circle cx="1062.38" cy="77.18" r="3" fill="url(#gcr)"/>
<circle cx="1066.84" cy="73.47" r="3" fill="url(#gcr)"/>
<circle cx="1071.31" cy="70.19" r="3" fill="url(#gcr)"/>
<circle cx="1075.78" cy="68.19" r="3" fill="url(#gcr)"/>
<circle cx="1080.25" cy="68.09" r="3" fill="url(#gcr)"/>
<circle cx="1084.71" cy="70.45" r="3" fill="url(#gcr)"/>
<circle cx="1089.18" cy="76.07" r="3" fill="url(#gcr)"/>
<circle cx="1093.65" cy="85.27" r="3" fill="url(#gcr)"/>
<circle cx="1098.12" cy="97.72" r="3" fill="url(#gcr)"/>
<circle cx="1102.59" cy="111.4" r="3" fill="url(#gcr)"/>
<circle cx="1107.05" cy="126.25" r="3" fill="url(#gcr)"/>
<circle cx="1111.52" cy="142.3" r="3" fill="url(#gcr)"/>
<circle cx="1115.99" cy="158.29" r="3" fill="url(#gcr)"/>
<circle cx="1120.46" cy="171.88" r="3" fill="url(#gcr)"/>
<circle cx="1124.92" cy="183.46" r="3" fill="url(#gcr)"/>
<circle cx="1129.39" cy="193.92" r="3" fill="url(#gcr)"/>
<circle cx="1133.86" cy="202.55" r="3" fill="url(#gcr)"/>
<circle cx="1138.33" cy="210.1" r="3" fill="url(#gcr)"/>
<circle cx="1142.79" cy="218.19" r="3" fill="url(#gcr)"/>
<circle cx="1147.26" cy="228.16" r="3" fill="url(#gcr)"/>
<circle cx="1151.73" cy="235.05" r="3" fill="url(#gcr)"/>
<circle cx="1156.2" cy="241.7" r="3" fill="url(#gcr)"/>
<circle cx="1160.66" cy="248.67" r="3" fill="url(#gcr)"/>
<circle cx="1165.13" cy="253.69" r="3" fill="url(#gcr)"/>
<circle cx="1169.6" cy="256.29" r="3" fill="url(#gcr)"/>
<line x1="1117.4" y1="86.2" x2="1099.6" y2="97.6" stroke="#222" stroke-width="1"/>
<line x1="1147.6" y1="124.6" x2="1135.2" y2="145.2" stroke="#222" stroke-width="1"/>
<text x="247.2" y="44.7" font-family="'Liberation Serif', serif" font-size="21" text-anchor="start" >(a)</text>
<text x="273" y="45" font-family="'Liberation Serif', serif" font-size="21" text-anchor="start" >Nyquist</text>
<text x="345.15" y="45.6" font-family="'Liberation Serif', 'Noto Serif CJK SC', serif" font-size="20" >图</text>
<text x="227.25" y="93.4" font-family="'Liberation Serif', 'Noto Serif CJK SC', serif" font-size="20" >轧</text>
<text x="248.55" y="93.4" font-family="'Liberation Serif', 'Noto Serif CJK SC', serif" font-size="20" >制</text>
<text x="127.6" y="261.8" font-family="'Liberation Serif', serif" font-size="21" text-anchor="start" >LMD</text>
<text x="116.15" y="320.8" font-family="'Liberation Serif', 'Noto Serif CJK SC', serif" font-size="20" >阻</text>
<text x="138.05" y="320.8" font-family="'Liberation Serif', 'Noto Serif CJK SC', serif" font-size="20" >抗</text>
<text x="159.75" y="320.8" font-family="'Liberation Serif', 'Noto Serif CJK SC', serif" font-size="20" >实</text>
<text x="180.7" y="320.8" font-family="'Liberation Serif', 'Noto Serif CJK SC', serif" font-size="20" >部</text>
<text x="201.3" y="320" font-family="'Liberation Serif', serif" font-size="21">/</text>
<text x="207.08" y="320" font-family="'Liberation Serif', serif" font-size="21">(</text>
<text x="214.45" y="320" font-family="'Liberation Serif', serif" font-size="21">10</text>
<text x="235.47" y="312" font-family="'Liberation Serif', serif" font-size="12">4</text>
<text x="242.28" y="320" font-family="'Liberation Serif', serif" font-size="23.5">Ω</text>
<text x="262.82" y="320" font-family="'Liberation Serif', serif" font-size="14">•</text>
<text x="270.1" y="320" font-family="'Liberation Serif', serif" font-size="21">cm</text>
<text x="295.8" y="312" font-family="'Liberation Serif', serif" font-size="12">−</text>
<text x="300.77" y="312" font-family="'Liberation Serif', serif" font-size="12">2</text>
<text x="306.63" y="320" font-family="'Liberation Serif', serif" font-size="21">)</text>
<g transform="translate(29.2,250) rotate(-90)">
<text x="2.75" y="1.4" font-family="'Liberation Serif', 'Noto Serif CJK SC', serif" font-size="20">阻</text>
<text x="24.65" y="1.4" font-family="'Liberation Serif', 'Noto Serif CJK SC', serif" font-size="20">抗</text>
<text x="45.4" y="1.4" font-family="'Liberation Serif', 'Noto Serif CJK SC', serif" font-size="20">虚</text>
<text x="66.4" y="1.4" font-family="'Liberation Serif', 'Noto Serif CJK SC', serif" font-size="20">部</text>
<text x="86" y="0" font-family="'Liberation Serif', serif" font-size="21">/</text>
<text x="92.08" y="0" font-family="'Liberation Serif', serif" font-size="21">(</text>
<text x="98.15" y="0" font-family="'Liberation Serif', serif" font-size="21">10</text>
<text x="120.17" y="-8.2" font-family="'Liberation Serif', serif" font-size="12">4</text>
<text x="125.38" y="0" font-family="'Liberation Serif', serif" font-size="23.5">Ω</text>
<text x="145.02" y="0" font-family="'Liberation Serif', serif" font-size="14">•</text>
<text x="152" y="0" font-family="'Liberation Serif', serif" font-size="21">cm</text>
<text x="177.9" y="-8.4" font-family="'Liberation Serif', serif" font-size="12">−</text>
<text x="183.47" y="-8.4" font-family="'Liberation Serif', serif" font-size="12">2</text>
<text x="188.33" y="0" font-family="'Liberation Serif', serif" font-size="21">)</text>
</g>
<text x="577.6" y="46.25" font-family="'Liberation Serif', serif" font-size="21" text-anchor="start" >(b)</text>
<text x="605.05" y="47.7" font-family="'Liberation Serif', 'Noto Serif CJK SC', serif" font-size="20" >阻</text>
<text x="626.65" y="47.7" font-family="'Liberation Serif', 'Noto Serif CJK SC', serif" font-size="20" >抗</text>
<text x="648.3" y="47.7" font-family="'Liberation Serif', 'Noto Serif CJK SC', serif" font-size="20" >模</text>
<text x="669.7" y="47.7" font-family="'Liberation Serif', 'Noto Serif CJK SC', serif" font-size="20" >值</text>
<text x="702.15" y="47.7" font-family="'Liberation Serif', 'Noto Serif CJK SC', serif" font-size="20" >频</text>
<text x="723.3" y="47.7" font-family="'Liberation Serif', 'Noto Serif CJK SC', serif" font-size="20" >率</text>
<text x="744.15" y="47.7" font-family="'Liberation Serif', 'Noto Serif CJK SC', serif" font-size="20" >图</text>
<text x="691.3" y="46.3" font-family="'Liberation Serif', serif" font-size="18.6">–</text>
<text x="726.65" y="199.5" font-family="'Liberation Serif', 'Noto Serif CJK SC', serif" font-size="20" >轧</text>
<text x="748.65" y="199.5" font-family="'Liberation Serif', 'Noto Serif CJK SC', serif" font-size="20" >制</text>
<text x="714.9" y="260.9" font-family="'Liberation Serif', serif" font-size="21" text-anchor="start" >LMD</text>
<text x="582.15" y="323.6" font-family="'Liberation Serif', 'Noto Serif CJK SC', serif" font-size="20" >频</text>
<text x="602.9" y="323.6" font-family="'Liberation Serif', 'Noto Serif CJK SC', serif" font-size="20" >率</text>
<text x="629" y="323.8" font-family="'Liberation Serif', serif" font-size="21">/Hz</text>
<g transform="translate(422.2,232) rotate(-90)">
<text x="0.25" y="0.8" font-family="'Liberation Serif', 'Noto Serif CJK SC', serif" font-size="20">阻</text>
<text x="21.05" y="0.8" font-family="'Liberation Serif', 'Noto Serif CJK SC', serif" font-size="20">抗</text>
<text x="42.9" y="0.8" font-family="'Liberation Serif', 'Noto Serif CJK SC', serif" font-size="20">模</text>
<text x="63.3" y="0.8" font-family="'Liberation Serif', 'Noto Serif CJK SC', serif" font-size="20">值</text>
<text x="90.2" y="0" font-family="'Liberation Serif', serif" font-size="21">/</text>
<text x="95.28" y="0" font-family="'Liberation Serif', serif" font-size="21">(</text>
<text x="103.28" y="0" font-family="'Liberation Serif', serif" font-size="23.5">Ω</text>
<text x="122.82" y="0" font-family="'Liberation Serif', serif" font-size="14">•</text>
<text x="129.8" y="0" font-family="'Liberation Serif', serif" font-size="21">cm</text>
<text x="156" y="-8.4" font-family="'Liberation Serif', serif" font-size="12">−</text>
<text x="161.67" y="-8.4" font-family="'Liberation Serif', serif" font-size="12">2</text>
<text x="166.33" y="0" font-family="'Liberation Serif', serif" font-size="21">)</text>
</g>
<text x="1006.6" y="46.6" font-family="'Liberation Serif', serif" font-size="21" text-anchor="start" >(c)</text>
<text x="1033.45" y="47" font-family="'Liberation Serif', 'Noto Serif CJK SC', serif" font-size="20" >相</text>
<text x="1055.1" y="47" font-family="'Liberation Serif', 'Noto Serif CJK SC', serif" font-size="20" >位</text>
<text x="1075.6" y="47" font-family="'Liberation Serif', 'Noto Serif CJK SC', serif" font-size="20" >角</text>
<text x="1108.65" y="47" font-family="'Liberation Serif', 'Noto Serif CJK SC', serif" font-size="20" >频</text>
<text x="1129.4" y="47" font-family="'Liberation Serif', 'Noto Serif CJK SC', serif" font-size="20" >率</text>
<text x="1150.65" y="47" font-family="'Liberation Serif', 'Noto Serif CJK SC', serif" font-size="20" >图</text>
<text x="1097" y="46.3" font-family="'Liberation Serif', serif" font-size="19.5">–</text>
<text x="1109.15" y="82" font-family="'Liberation Serif', 'Noto Serif CJK SC', serif" font-size="20" >轧</text>
<text x="1130.35" y="82" font-family="'Liberation Serif', 'Noto Serif CJK SC', serif" font-size="20" >制</text>
<text x="1121.8" y="118.6" font-family="'Liberation Serif', serif" font-size="21" text-anchor="start" >LMD</text>
<text x="985.25" y="324.6" font-family="'Liberation Serif', 'Noto Serif CJK SC', serif" font-size="20" >频</text>
<text x="1006.8" y="324.6" font-family="'Liberation Serif', 'Noto Serif CJK SC', serif" font-size="20" >率</text>
<text x="1032.9" y="323.8" font-family="'Liberation Serif', serif" font-size="21">/Hz</text>
<g transform="translate(810.4,192) rotate(-90)">
<text x="1.45" y="0.5" font-family="'Liberation Serif', 'Noto Serif CJK SC', serif" font-size="20">相</text>
<text x="22.8" y="0.5" font-family="'Liberation Serif', 'Noto Serif CJK SC', serif" font-size="20">位</text>
<text x="49.4" y="0" font-family="'Liberation Serif', serif" font-size="21">/</text>
<text x="57.29" y="0" font-family="'Liberation Serif', serif" font-size="23">(</text>
<text x="64.09" y="0" font-family="'Liberation Serif', serif" font-size="21">°</text>
<text x="72.26" y="0" font-family="'Liberation Serif', serif" font-size="23">)</text>
</g>
<text x="346.5" y="356.9" font-family="'Liberation Serif', 'Noto Serif CJK SC', serif" font-size="22.6" letter-spacing="1.25">图</text>
<text x="375.4" y="357.2" font-family="'Liberation Serif', serif" font-size="24" text-anchor="start" >7</text>
<text x="402.9" y="357.2" font-family="'Liberation Serif', serif" font-size="24" text-anchor="start" >LMD</text>
<text x="461.5" y="356.9" font-family="'Liberation Serif', 'Noto Serif CJK SC', serif" font-size="22.6" letter-spacing="1.25">态和轧制态</text>
<text x="586.2" y="357.2" font-family="'Liberation Serif', serif" font-size="24" text-anchor="start" >TC4</text>
<text x="634.4" y="356.9" font-family="'Liberation Serif', 'Noto Serif CJK SC', serif" font-size="22.6" letter-spacing="1.25">合金的电化学阻抗谱</text>
<text x="231.3" y="386" font-family="'Liberation Serif', serif" font-size="23.6" text-anchor="start" >Fig.7</text>
<text x="296" y="386" font-family="'Liberation Serif', serif" font-size="23.6" text-anchor="start" >Electrochemical</text>
<text x="457.6" y="386" font-family="'Liberation Serif', serif" font-size="23.6" text-anchor="start" >impedance</text>
<text x="567.2" y="386" font-family="'Liberation Serif', serif" font-size="23.6" text-anchor="start" >spectra</text>
<text x="641.9" y="386" font-family="'Liberation Serif', serif" font-size="23.6" text-anchor="start" >of</text>
<text x="669.8" y="386" font-family="'Liberation Serif', serif" font-size="23.6" text-anchor="start" >LMDed</text>
<text x="748.6" y="386" font-family="'Liberation Serif', serif" font-size="23.6" text-anchor="start" >and</text>
<text x="793.9" y="386" font-family="'Liberation Serif', serif" font-size="23.6" text-anchor="start" >rolled</text>
<text x="857.1" y="386" font-family="'Liberation Serif', serif" font-size="23.6" text-anchor="start" >TC4</text>
<text x="906" y="386" font-family="'Liberation Serif', serif" font-size="23.6" text-anchor="start" >alloys</text></svg>
</body></html>
